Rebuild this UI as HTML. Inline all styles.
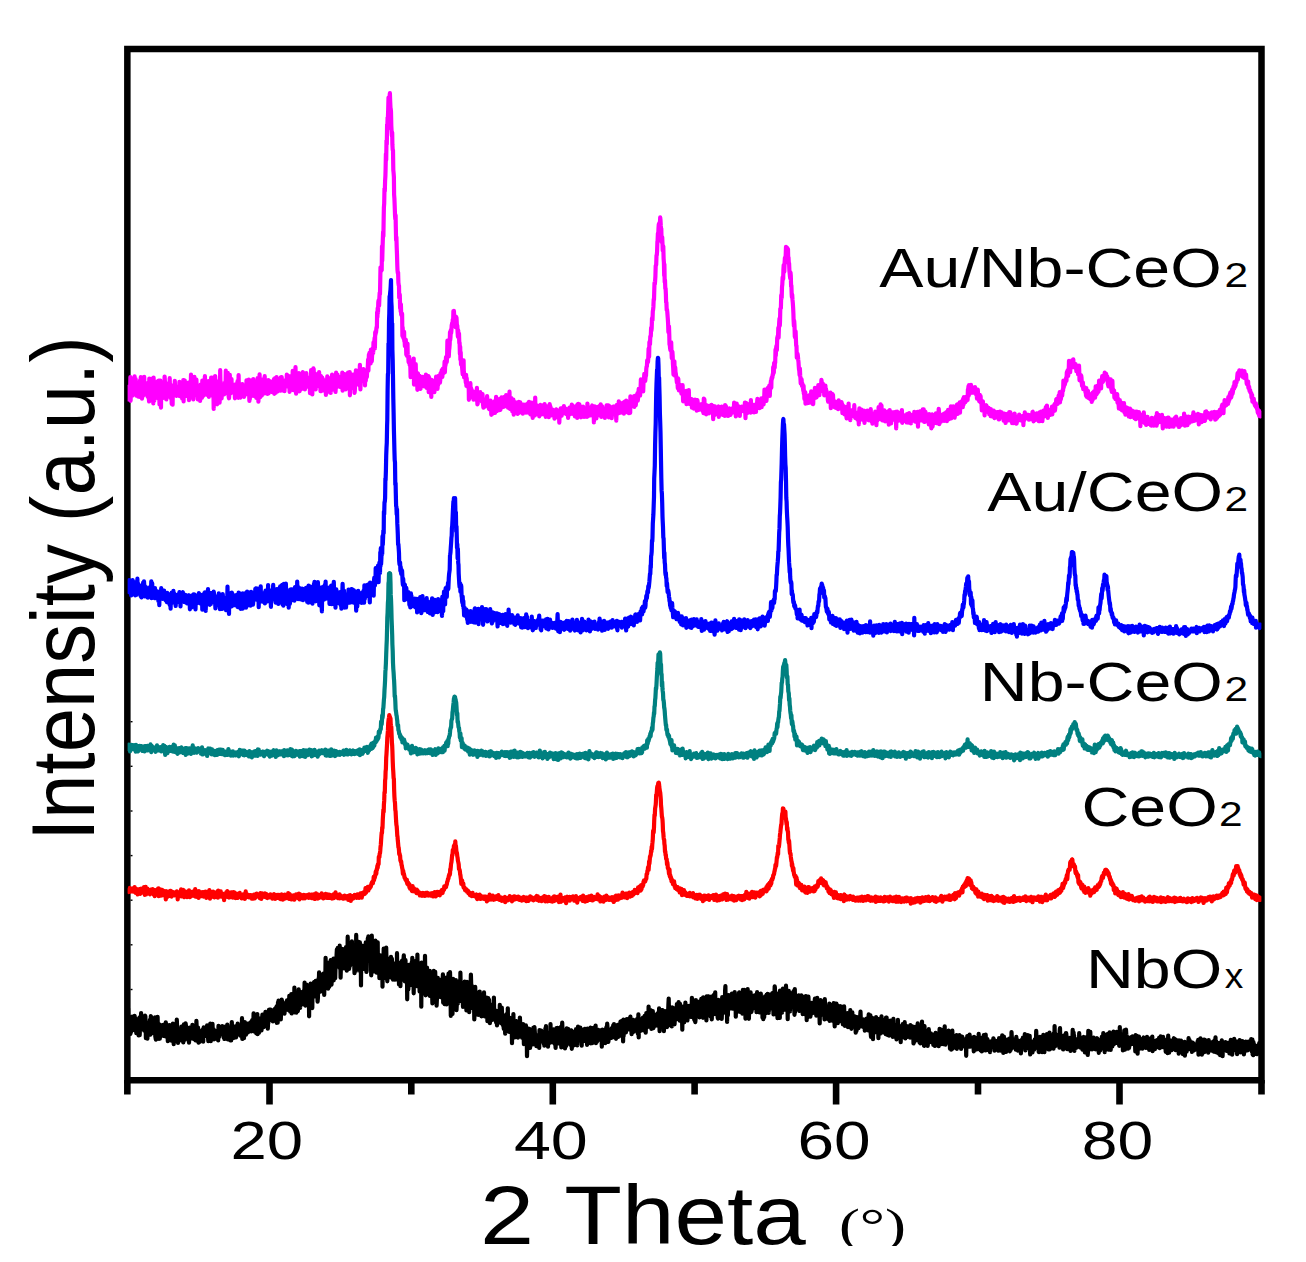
<!DOCTYPE html>
<html><head><meta charset="utf-8"><title>XRD</title>
<style>html,body{margin:0;padding:0;background:#fff;}svg{display:block;}</style></head>
<body>
<svg width="1306" height="1262" viewBox="0 0 1306 1262">
<rect x="0" y="0" width="1306" height="1262" fill="#fff"/>
<g fill="none" stroke="#000">
<path d="M127.35 48.9H1261.5V1080.35H127.35Z" stroke-width="6.5" stroke-linejoin="miter"/>
<path d="M127.35 1080V1094.5M411.3 1080V1094.5M694.6 1080V1094.5M978 1080V1094.5M1261.5 1080V1094.5" stroke-width="6.6"/>
<path d="M269.5 1080V1104.5M552.8 1080V1104.5M836.1 1080V1104.5M1119.5 1080V1104.5" stroke-width="6.6"/>
</g>
<g fill="#000">
<rect x="130.5" y="721" width="2" height="1.4"/><rect x="130.5" y="765.6" width="2" height="1.4"/><rect x="130.5" y="810.3" width="2" height="1.4"/><rect x="130.5" y="854.9" width="2" height="1.4"/><rect x="130.5" y="899.5" width="2" height="1.4"/><rect x="130.5" y="944.1" width="2" height="1.4"/><rect x="130.5" y="988.8" width="2" height="1.4"/>
</g>
<clipPath id="cc"><rect x="127.6" y="40" width="1133.8" height="1040"/></clipPath>
<g clip-path="url(#cc)"><g fill="none" stroke-linejoin="round" stroke-linecap="butt" transform="scale(0.1)">
<path d="M1278 3902l3 92 3-9 3-120 2 14 3-16 3 77 3-44 3 55 3-180 2 237 3-116 3 54 3-57 3-17 3 59 2 25 3-72 3 3 3 58 3-108 3-45 2 133 3-75 3-87 3 77 3 24 3-51 2-21 3 106 3 59 3-78 3-36 3 78 2 23 3-71 3 59 3 34 3-87 3-43 2 81 3-7 3 59 3-166 3 43 3-12 2-63 3 129 3 28 3-88 3 147 3-39 2-14 3-15 3 38 3-158 3 134 3-1 2-163 3 146 3-41 3 71 3-84 3 29 2 25 3-84 3 102 3-49 3 41 3-69 2 110 3-32 3-54 3 56 3 43 3 36 2-230 3 168 3-28 3-38 3-62 3 155 2-172 3 125 3 50 3-197 3 89 3-68 2 105 3 87 3 35 3-258 3 82 3 87 2 59 3-78 3-78 3 70 3-20 3-13 2-35 3 76 3-5 3-27 3-9 3-71 2 54 3 114 3-93 3-84 3 187 3-54 2 106 3-137 3-35 3-65 3 185 3 84 2-227 3 12 3 84 3-95 3 37 3-5 2 37 3 60 3-71 3 60 3-89 3 50 2-164 3 46 3 149 3-92 3 78 3-2 2 51 3-33 3 13 3-74 3-39 3-2 2 16 3-42 3 38 3 30 3 23 3-39 2-104 3 122 3 19 3 57 3-34 3-80 2-5 3 179 3-82 3 70 3 19 3-193 2 79 3 5 3 6 3-1 3-23 3-2 2-109 3 87 3-38 3 57 3-39 3 70 2 13 3-33 3 0 3-15 3-35 3 18 2-21 3 57 3-25 3 37 3-124 3 143 2-107 3 2 3 34 3-24 3 55 3-56 2-32 3 14 3 139 3-82 3-78 3 75 2-101 3 215 3-213 3 128 3 4 3-128 2 112 3 44 3-34 3-14 3 44 3-51 2 11 3-29 3 48 3-101 3 110 3-83 2-37 3 92 3 84 3-47 3-94 3 77 2-73 3 20 3 13 3-152 3 158 3-77 2 21 3-50 3-3 3 36 3 112 3 52 2-107 3 70 3-85 3-104 3 129 3 19 2-56 3 46 3 17 3-90 3-39 3 78 2 1 3-9 3 83 3 46 3-134 3 69 2 15 3-14 3 20 3-89 3 70 3 79 2-76 3-89 3 76 3 41 3-56 3-58 2 130 3-173 3 108 3-33 3-73 3 149 2-54 3-94 3 109 3-64 3-91 3 75 2 58 3 22 3-29 3-8 3 26 3-42 2 85 3-64 3 9 3 15 3-98 3 21 2 136 3-73 3-38 3 38 3-51 3 46 2-57 3 57 3-113 3 176 3-112 3-65 2 82 3-9 3 31 3-79 3 94 3 194 2-296 3 97 3-39 3 30 3-121 3 40 2 97 3-30 3 100 3-141 3 53 3 164 2-221 3-8 3 52 3-1 3 54 3-43 2-53 3 58 3 145 3-82 3-242 3 158 2-44 3 89 3-47 3 125 3-59 3-3 2-41 3-13 3 22 3 57 3-45 3-52 2 96 3-64 3-15 3-42 3 13 3-3 2-127 3 225 3-27 3-45 3 74 3-35 2-4 3-167 3 132 3 46 3 63 3 14 2-24 3-151 3-60 3 162 3-32 3 55 2-63 3 21 3-100 3 114 3-52 3 47 2 6 3-33 3 26 3-19 3 45 3-14 2-61 3-2 3 135 3-106 3 63 3-34 2-55 3-10 3 50 3 8 3 21 3-108 2 39 3 29 3 98 3-228 3 161 3-56 2 56 3-53 3 49 3 69 3-69 3 5 2-4 3-64 3 74 3-43 3-34 3 44 2-11 3 56 3-45 3-27 3 112 3-26 2 16 3-38 3-40 3-18 3 8 3 70 2-48 3-90 3 82 3-78 3 89 3-77 2-3 3 78 3-11 3-89 3 135 3 79 2-204 3 185 3-141 3 11 3 18 3-71 2 154 3-46 3-69 3 26 3-69 3 65 2 72 3-149 3 72 3 32 3 50 3 17 2-101 3-16 3 67 3-46 3 3 3 77 2 34 3-80 3-25 3 42 3-137 3 104 2-58 3 191 3-93 3-32 3-19 3-129 2 179 3 50 3-131 3 78 3 2 3-126 2 137 3 23 3-63 3-16 3 47 3-130 2 90 3 53 3-127 3 123 3-79 3-92 2 109 3-48 3 71 3-83 3 122 3-99 2 60 3-53 3 14 3 83 3-54 3-34 2-48 3 133 3-24 3-59 3 30 3-70 2 0 3 10 3 64 3-3 3-58 3 81 2 2 3-34 3 47 3-74 3 9 3 32 2-29 3 45 3-113 3 147 3-122 3 33 2-67 3 108 3 37 3-12 3-14 3-131 2 42 3 17 3-27 3 112 3-52 3-12 2 28 3-79 3 1 3 1 3 75 3-9 2 13 3 26 3-133 3 43 3 38 3-83 2 44 3 84 3 5 3-3 3-57 3-14 2 70 3-80 3 38 3 53 3-93 3-14 2 32 3 32 3-7 3-18 3 21 3-118 2 40 3 54 3-60 3-23 3 7 3 15 2 39 3-46 3 67 3 79 3-101 3 77 2-55 3-77 3 47 3-40 3 94 3-105 2 134 3-41 3-142 3 151 3 41 3-127 2 96 3-152 3 111 3-104 3 115 3-123 2-46 3 163 3 102 3-157 3 77 3-39 2-24 3 50 3 55 3-155 3 96 3-12 2-96 3 164 3 18 3-157 3 145 3-91 2-12 3 90 3-69 3 5 3 64 3-12 2-21 3-124 3-9 3 145 3-110 3 58 2-66 3 48 3-59 3 157 3-142 3 48 2-3 3 74 3-140 3 74 3-9 3 40 2-3 3-50 3 38 3-32 3 45 3-30 2-30 3 34 3 21 3 102 3-147 3 43 2 62 3-189 3 19 3 30 3 57 3 137 2-109 3 44 3-76 3-119 3 8 3 178 2-44 3-79 3 129 3-141 3 143 3 17 2-118 3-18 3 104 3-103 3 105 3-110 2 107 3-37 3-28 3-25 3 61 3-113 2 86 3-6 3 57 3-102 3 157 3-107 2-44 3 134 3 15 3-98 3-37 3 48 2-38 3 20 3 99 3-61 3-13 3 10 2-21 3 48 3 2 3-66 3 25 3 122 2-106 3-32 3 118 3-107 3-59 3 94 2-83 3 21 3 43 3-24 3-33 3 11 2-2 3 92 3-99 3 8 3 137 3-137 2 108 3-9 3-78 3-66 3 98 3 12 2 15 3-47 3 59 3 10 3-128 3 130 2-66 3-39 3 13 3 116 3-47 3-146 2 98 3-11 3-2 3-18 3-49 3 121 2-94 3 30 3-12 3-7 3 77 3-19 2-55 3-14 3 25 3 75 3-44 3 6 2-29 3 3 3 25 3-107 3 180 3-125 2 12 3 100 3-59 3-9 3-32 3-51 2 91 3 53 3-109 3 118 3-130 3 21 2 64 3-26 3 36 3-74 3-15 3-44 2 35 3 6 3-18 3 90 3-50 3-69 2 232 3-173 3-22 3 130 3-4 3-121 2-17 3 24 3 110 3-75 3-26 3 40 2 63 3-135 3 52 3-52 3 182 3-19 2-45 3-57 3 40 3-144 3 122 3-84 2-1 3 31 3 16 3 47 3 4 3-24 2-63 3 81 3-43 3 65 3-109 3-97 2 114 3 132 3-89 3-37 3 51 3-22 2-6 3-53 3 26 3 3 3-47 3-29 2 60 3 38 3-20 3-13 3-4 3 101 2-123 3 34 3 41 3-102 3 5 3 33 2 27 3-76 3-4 3-21 3-73 3 111 2-77 3-83 3 72 3-89 3 28 3 43 2-57 3 91 3-139 3 77 3 4 3 35 2-39 3-48 3-20 3-21 3 47 3-106 2 45 3-47 3 0 3-43 3 105 3-162 2 27 3-19 3-4 3-31 3-24 3 4 2-153 3 51 3-92 3 46 3-103 3-21 2 13 3 40 3-79 3-52 3 17 3-164 2-104 3 41 3-40 3 30 3-4 3-237 2 146 3-107 3-99 3-87 3 46 3-192 2-98 3-37 3-153 3 29 3-104 3-49 2-71 3-150 3 62 3-198 3 41 3-201 2 52 3-120 3 2 3-80 3-120 3 34 2 49 3 22 3-119 3-30 3 87 3 61 2 8 3 29 3 139 3 58 3 44 3-32 2 121 3 53 3 2 3 198 3 29 3 42 2 176 3 37 3 76 3 88 3 43 3-37 2 111 3 136 3-31 3 101 3 76 3 108 2 46 3 30 3-7 3 102 3 25 3 8 2 117 3-4 3-25 3 136 3-41 3 75 2-74 3 104 3-17 3 27 3-20 3 223 2-88 3 41 3 64 3-38 3 51 3-71 2 93 3-12 3 61 3 1 3-59 3-7 2 54 3 97 3-2 3 12 3-102 3-20 2 109 3 25 3-3 3 55 3-15 3-38 2 24 3 56 3 5 3 1 3 117 3-110 2 25 3-45 3 36 3 48 3 8 3-27 2 31 3-10 3-84 3-58 3 261 3-63 2-36 3-72 3 26 3 124 3-185 3 117 2 58 3-29 3 31 3-37 3 118 3-152 2-12 3 77 3 55 3-64 3 53 3-69 2-27 3 119 3 10 3 1 3-86 3-30 2 1 3 44 3 38 3-2 3-85 3 73 2-7 3 4 3-4 3-8 3 36 3-20 2 5 3-41 3 48 3-22 3-88 3 115 2-33 3 52 3-47 3 3 3 13 3-9 2-19 3-59 3 160 3-149 3 55 3 44 2-11 3 9 3 9 3 21 3-42 3 113 2-171 3 54 3-27 3-8 3 36 3 50 2-95 3-1 3 61 3-9 3 61 3-42 2-36 3-26 3 22 3-18 3-54 3 58 2-10 3-5 3-11 3 89 3-45 3 7 2-70 3-21 3 29 3 19 3-29 3 2 2 46 3-34 3-60 3 19 3-15 3 30 2-64 3 37 3 31 3-36 3-48 3 5 2 24 3 7 3 6 3-52 3-61 3 108 2-59 3-7 3-17 3-70 3 17 3 12 2 19 3-57 3-154 3 109 3 9 3 24 2-43 3 59 3-64 3-22 3-37 3-121 2 79 3-30 3-69 3 31 3-25 3-56 2-2 3-21 3 8 3-41 3 32 3-117 2 66 3-67 3 51 3 44 3-20 3-1 2 15 3 74 3-106 3 100 3-90 3 61 2 45 3-25 3 65 3 43 3-62 3 69 2 9 3-45 3 96 3-4 3 112 3-73 2 129 3-74 3 123 3-39 3 15 3 32 2 21 3 38 3 30 3-71 3-22 3-45 2 108 3 61 3-3 3 1 3-7 3 0 2 25 3 38 3-78 3 111 3-79 3 61 2-11 3 19 3-20 3 3 3 45 3-28 2 148 3-108 3-4 3 10 3-15 3-49 2 92 3 27 3-68 3 64 3-45 3 49 2 18 3 7 3 0 3-43 3 63 3-51 2 32 3 15 3-39 3-38 3 74 3-67 2 9 3-9 3 76 3-39 3-81 3 115 2 52 3-10 3-92 3 26 3 17 3 15 2-32 3-43 3 73 3-4 3-73 3 39 2 26 3-8 3 22 3 13 3-7 3-22 2-45 3 78 3 33 3 25 3-73 3 3 2 60 3 2 3-38 3 17 3-53 3 55 2-51 3 29 3 4 3-10 3-60 3 52 2 47 3-13 3-10 3 33 3 12 3 8 2-61 3 33 3-12 3-20 3-23 3 54 2-29 3 116 3-86 3-4 3-6 3 86 2-106 3 29 3-22 3 24 3 4 3 43 2-96 3 53 3 63 3-81 3 12 3-27 2-66 3 95 3 48 3-62 3-53 3 79 2-7 3 34 3-4 3-46 3 25 3-85 2 110 3-36 3 33 3-2 3-53 3 4 2-29 3-46 3 72 3 9 3-49 3 67 2-25 3 12 3-48 3-40 3 96 3-8 2-29 3-13 3 4 3 4 3-15 3-58 2 106 3-87 3 44 3 1 3 22 3-70 2 108 3-20 3 5 3 20 3-77 3-87 2 133 3 39 3-4 3-63 3 19 3 16 2-77 3 45 3 3 3 86 3-83 3 86 2-58 3-62 3 149 3-120 3 62 3 42 2-83 3-25 3 87 3-36 3-48 3 7 2 27 3 52 3-46 3 36 3 38 3-13 2 7 3-7 3-107 3 108 3-33 3-17 2-36 3-18 3 19 3 41 3-43 3 14 2 8 3 49 3-36 3 6 3 55 3-61 2 35 3-63 3 53 3-8 3 2 3-24 2-21 3 28 3-6 3 56 3-4 3-80 2 69 3-41 3 35 3-35 3-38 3 94 2-21 3-63 3-25 3 51 3-24 3 30 2 37 3 32 3-68 3 65 3-8 3-60 2-46 3 94 3-9 3 66 3-35 3-24 2 34 3-103 3 47 3-18 3 76 3-44 2-136 3 166 3-85 3 63 3-47 3 28 2 15 3-17 3-43 3 89 3-38 3-15 2 27 3-46 3 91 3-62 3 6 3-1 2-47 3-9 3 52 3 6 3 37 3-33 2-57 3 61 3 11 3 8 3-25 3-58 2 90 3-71 3 50 3-80 3 88 3-57 2 70 3 26 3-21 3-87 3 9 3 3 2 58 3-11 3-6 3 6 3 11 3 3 2 39 3-64 3 10 3-76 3 20 3 24 2-17 3 53 3 31 3-54 3-2 3 0 2 25 3-25 3 37 3-4 3 2 3 16 2-27 3 5 3 61 3-67 3 32 3-28 2-18 3 0 3-13 3 32 3-23 3 7 2 62 3-50 3 48 3-33 3 23 3-55 2 28 3 94 3-68 3 7 3-29 3 23 2-75 3 12 3 47 3 15 3-46 3 8 2-6 3 6 3-38 3-9 3 50 3-62 2 28 3 12 3-15 3 48 3-26 3 13 2-35 3 10 3 46 3-6 3-31 3 30 2-7 3-1 3 53 3-75 3 30 3 0 2-25 3-35 3 68 3-16 3-9 3-1 2-1 3-34 3 44 3-79 3 66 3-56 2 43 3 39 3-37 3-9 3 37 3-30 2-5 3 0 3 70 3-32 3-7 3-62 2 67 3-72 3 66 3-60 3 114 3-136 2 108 3-16 3-96 3 57 3 63 3-12 2-104 3 42 3-24 3 5 3 15 3 92 2-63 3-14 3-4 3 38 3 1 3-60 2 89 3-95 3 30 3 27 3 47 3-76 2 24 3 38 3-25 3 19 3-3 3-29 2 14 3 11 3-35 3 61 3-133 3 40 2 88 3-38 3-39 3 38 3 27 3-61 2 50 3-33 3 1 3 2 3 44 3-83 2 28 3 39 3-70 3-13 3 80 3-20 2-6 3 11 3-41 3 145 3-145 3 21 2-36 3 37 3 73 3-56 3 21 3-40 2 86 3-61 3-53 3 76 3-43 3 37 2-18 3 5 3-5 3-38 3-23 3 92 2-41 3 16 3-28 3-58 3 27 3 99 2-81 3 15 3-40 3 34 3 6 3 5 2 6 3-21 3 1 3 21 3 12 3-17 2 69 3-57 3-2 3-31 3 62 3-76 2-22 3 23 3 58 3-65 3 89 3-49 2-55 3 47 3 73 3-97 3-17 3 66 2 29 3-11 3-50 3 18 3 5 3 30 2 35 3-83 3 51 3-61 3 34 3-56 2 5 3 43 3-49 3 65 3-53 3 22 2-7 3-9 3 16 3 34 3 73 3-157 2 53 3-18 3-27 3 43 3-43 3 28 2 47 3-119 3 82 3 6 3-51 3 53 2-7 3-26 3 56 3-92 3 70 3-32 2-30 3 32 3-7 3 42 3-84 3 47 2-10 3 74 3-98 3 78 3-102 3 75 2-17 3 18 3-40 3-46 3 14 3 102 2-41 3-40 3 62 3-60 3-2 3-19 2 85 3 26 3-108 3 43 3 22 3 39 2-165 3 89 3 16 3-79 3 65 3-10 2 16 3-49 3 33 3-40 3 41 3-20 2-22 3-41 3 107 3-23 3-12 3-59 2 8 3 69 3-38 3-62 3 29 3-1 2-17 3-32 3 75 3-29 3-34 3-55 2 30 3 15 3 26 3-51 3 47 3-41 2-39 3-81 3 51 3-19 3 41 3 10 2 30 3-60 3-51 3 119 3-84 3-31 2-11 3-51 3 62 3-22 3 32 3-30 2-22 3 0 3-71 3-21 3-1 3-61 2 24 3-25 3 18 3-44 3-91 3 51 2 29 3-145 3 16 3 4 3-77 3 2 2-6 3-82 3 30 3-28 3-98 3 15 2 4 3-87 3-15 3-32 3-76 3 5 2-67 3-100 3 15 3-32 3-49 3-105 2-2 3-9 3-92 3-4 3-38 3-95 2-9 3-75 3 26 3-76 3-42 3 3 2-15 3 10 3 1 3-67 3 29 3 56 2 22 3 6 3 133 3-33 3-16 3 70 2 64 3 2 3-43 3 119 3 44 3 129 2-113 3 180 3-22 3 87 3-4 3 61 2 79 3 0 3 77 3-6 3 25 3 42 2 24 3 47 3 88 3-65 3 11 3 89 2 89 3 2 3 35 3 20 3-50 3 52 2-80 3 94 3 63 3-60 3-1 3 44 2 70 3 48 3 65 3-27 3-92 3-15 2 99 3 44 3-83 3 49 3 13 3 27 2 2 3 33 3 28 3-26 3 31 3 51 2-97 3 7 3 60 3 53 3-51 3 38 2-42 3 47 3-47 3 49 3-4 3 5 2 38 3-5 3-52 3 55 3-83 3 96 2 65 3-71 3 4 3-10 3 30 3-39 2 42 3-27 3-1 3 23 3-3 3-52 2 132 3-61 3-58 3 96 3-33 3 11 2 20 3-50 3-65 3 97 3 15 3 27 2-55 3 18 3 25 3-22 3 5 3 18 2-39 3 87 3-81 3 34 3-10 3-11 2 43 3 17 3 16 3-27 3-32 3 44 2-74 3 50 3 17 3 3 3-55 3-10 2 105 3-70 3-36 3 15 3 42 3 39 2-37 3 40 3-30 3 9 3 18 3-43 2 23 3-21 3-7 3 43 3-47 3 30 2-27 3 24 3-14 3 54 3-32 3 1 2 52 3-146 3 58 3-51 3 89 3 15 2 7 3-11 3-36 3 86 3-46 3-17 2-27 3 50 3-28 3 2 3 22 3 1 2-33 3 68 3-72 3-3 3 47 3-5 2-1 3-15 3 15 3-18 3-34 3 76 2-55 3 26 3 31 3-22 3 87 3-131 2 22 3 27 3 41 3-51 3-37 3 82 2-64 3 23 3 35 3-49 3 7 3 30 2-21 3 16 3-39 3 26 3-30 3-14 2 104 3-41 3 15 3-59 3 30 3-6 2-38 3 62 3-40 3 16 3-41 3 79 2-8 3-11 3-41 3 11 3 55 3-47 2 17 3-5 3-39 3 82 3-110 3 68 2-10 3-48 3 61 3 5 3-15 3-28 2 39 3 20 3-28 3 46 3-27 3-4 2 19 3-64 3 4 3 31 3 0 3 30 2-12 3-31 3 1 3-16 3-3 3-4 2 42 3-43 3 3 3 15 3-21 3 8 2-61 3 78 3-21 3 15 3 5 3-69 2 130 3-69 3 0 3-60 3 73 3-6 2-24 3 18 3 32 3-50 3-17 3 68 2-33 3-14 3 76 3-66 3-10 3 13 2-20 3 18 3-2 3-25 3 12 3 18 2 2 3 6 3 6 3-17 3 8 3-27 2 4 3 39 3-92 3 71 3 85 3-153 2 102 3-99 3 64 3 38 3-4 3-73 2-12 3-4 3 65 3-34 3 12 3 8 2 4 3 4 3-13 3-52 3 92 3-127 2 121 3-56 3 12 3-10 3 4 3 11 2-8 3-25 3 59 3-44 3 59 3-46 2-18 3 35 3 13 3-57 3 18 3 51 2-77 3 3 3 29 3-44 3-41 3 22 2 61 3 7 3-4 3-9 3-53 3 57 2 12 3-60 3 48 3-43 3 14 3 3 2-61 3 89 3-76 3 20 3-16 3 26 2-5 3-16 3 39 3-40 3-26 3-83 2 78 3-5 3-24 3-5 3 41 3 9 2 21 3-30 3-66 3 25 3-59 3 60 2-20 3-38 3 8 3-13 3-21 3 54 2 49 3-84 3-2 3-40 3-27 3 72 2-96 3 13 3-29 3 10 3-35 3 7 2-77 3 24 3 33 3-97 3-5 3 51 2-52 3 3 3-133 3 61 3-71 3-26 2 39 3 2 3-118 3-13 3-8 3-11 2-72 3 99 3-90 3-64 3-38 3 71 2-36 3-133 3-3 3-1 3-125 3-13 2 37 3-111 3-25 3-69 3-11 3 23 2-89 3-49 3-2 3 67 3-86 3-51 2 8 3-5 3-26 3-87 3 76 3-24 2 41 3-84 3 101 3-52 3-35 3 136 2-54 3 56 3 3 3 75 3 28 3 31 2 15 3-57 3 32 3 107 3-9 3 90 2 25 3-24 3 51 3 32 3 45 3 61 2 67 3 58 3-52 3 48 3 109 3 7 2 6 3-65 3 77 3 70 3-1 3 118 2-43 3 31 3-26 3 24 3 35 3 22 2 34 3 40 3 13 3 45 3-66 3 71 2 17 3 61 3-48 3 33 3-27 3 56 2 11 3-24 3 17 3 25 3 31 3-50 2 79 3-33 3 84 3-7 3-56 3-1 2 112 3-57 3 4 3-29 3 15 3 36 2-3 3-45 3 73 3-28 3-41 3 68 2-37 3 33 3-44 3 32 3-67 3 68 2-65 3 57 3-93 3 83 3 25 3-10 2 22 3-79 3 87 3-2 3-98 3 10 2 4 3 15 3 3 3-95 3 100 3-34 2-30 3 62 3-49 3 45 3-25 3-34 2 46 3-17 3-50 3-42 3 32 3 36 2-33 3 66 3-55 3-5 3 5 3-45 2 25 3-20 3-58 3 20 3 87 3-39 2 12 3-44 3 33 3 49 3-20 3-18 2 74 3-51 3-6 3 55 3-94 3 82 2-52 3 16 3 7 3 33 3 3 3 11 2 1 3 45 3 14 3-30 3 6 3-35 2-21 3 61 3-15 3 31 3-87 3 155 2-130 3 47 3 35 3-77 3 30 3-46 2 22 3-14 3 71 3 8 3-18 3 56 2 6 3-45 3-5 3 0 3-5 3 61 2-35 3-17 3 5 3 27 3-30 3 26 2-10 3 48 3-5 3-84 3 44 3 31 2-37 3 44 3-14 3 10 3-20 3 15 2 9 3-65 3 21 3-1 3 92 3-44 2 5 3-5 3-21 3-6 3 56 3-39 2 67 3-44 3-2 3-8 3 7 3 5 2 52 3 29 3-115 3 49 3 17 3-53 2 11 3 7 3-64 3 104 3-22 3 0 2 7 3 6 3 71 3-71 3 23 3-45 2 31 3-22 3 7 3-25 3 4 3 44 2 11 3-9 3-37 3 34 3-95 3 118 2-32 3 11 3 31 3-53 3 48 3-46 2 34 3-32 3 25 3 40 3-70 3 2 2 10 3 22 3 84 3-112 3-48 3 47 2-30 3 35 3 20 3-32 3 10 3-39 2 70 3-31 3 63 3-1 3-64 3 17 2 15 3 25 3-82 3 55 3 66 3-66 2 11 3-7 3-40 3 74 3-23 3-3 2 19 3 3 3-91 3 81 3-36 3 26 2-30 3-5 3 62 3-32 3-9 3 0 2 12 3-3 3-80 3 51 3 22 3 33 2 21 3-79 3 98 3-63 3 14 3-35 2-3 3 69 3-56 3 3 3 43 3 19 2-111 3 45 3 6 3 62 3 22 3-87 2 14 3 16 3 10 3-51 3 40 3-54 2-69 3 44 3 55 3 19 3-106 3 15 2 61 3-116 3 135 3 16 3-139 3 129 2-34 3 55 3-39 3-19 3 12 3 28 2-26 3-6 3-52 3 66 3-16 3 62 2-64 3-3 3-19 3 46 3-32 3-18 2 80 3 6 3-78 3-20 3 74 3-68 2 127 3-103 3 38 3-79 3 44 3 39 2-22 3-34 3 104 3-59 3-34 3-13 2 13 3 57 3-74 3 29 3-29 3 73 2-49 3 37 3-10 3-39 3 46 3 9 2-72 3 65 3 101 3-134 3 34 3-69 2 64 3-36 3 49 3-28 3-39 3 81 2-46 3-27 3 38 3-36 3 49 3-16 2-11 3 37 3-68 3 79 3-104 3 127 2-50 3-16 3-16 3 45 3-25 3 0 2 42 3-51 3 7 3 24 3 22 3-43 2 11 3-4 3 25 3 26 3-85 3 28 2 4 3 22 3 32 3-53 3 8 3 32 2-83 3 17 3 11 3 15 3 9 3-26 2 78 3-85 3 18 3 44 3-10 3-28 2 14 3 15 3-28 3 22 3-53 3 34 2-59 3 26 3-9 3 82 3-59 3 27 2-42 3 25 3-3 3-20 3 59 3-86 2 78 3 70 3-119 3 29 3-54 3 52 2-58 3 81 3-38 3-46 3 19 3-10 2 44 3 39 3-42 3-27 3 12 3 33 2-87 3 103 3-6 3-97 3 124 3-95 2 48 3 48 3-95 3-7 3 25 3 1 2 33 3-13 3 1 3 1 3 11 3-23 2 41 3-11 3-34 3 96 3-104 3 68 2-49 3 38 3 5 3 12 3 19 3-75 2 124 3-82 3-40 3-18 3 124 3-23 2-55 3 26 3 19 3-41 3-17 3 13 2 30 3-28 3-41 3 66 3-83 3 33 2 66 3-33 3-1 3-4 3 31 3-37 2-63 3 73 3-110 3 33 3 120 3-18 2-51 3 13 3 4 3 30 3-59 3-5 2 7 3 25 3 2 3-23 3 37 3-60 2 29 3-21 3-12 3 71 3-52 3-25 2 33 3-36 3 50 3 6 3 4 3-70 2 28 3 63 3-69 3 46 3 7 3-97 2 83 3-17 3 3 3 24 3-41 3-14 2 16 3-33 3 26 3-82 3 120 3-75 2 33 3-9 3-8 3-1 3-3 3-56 2 33 3 55 3-73 3-3 3 101 3-31 2 10 3-52 3 7 3 14 3-8 3-23 2-46 3 22 3-27 3 97 3-66 3 5 2 13 3-11 3 14 3-40 3-31 3 102 2-82 3 4 3-14 3 5 3 14 3 20 2-62 3 39 3-35 3 56 3-82 3 38 2 16 3-71 3 42 3-4 3-35 3 14 2 34 3-29 3-26 3 1 3 16 3 21 2-20 3-7 3 21 3-105 3-1 3-32 2 95 3-105 3 67 3 21 3-73 3 20 2 9 3 28 3-75 3 56 3 10 3-20 2-1 3 33 3-34 3-8 3-10 3 32 2-29 3 31 3-15 3 34 3-58 3 31 2 12 3 6 3 26 3-18 3 20 3 39 2-30 3-54 3-6 3 71 3-26 3 27 2-9 3 53 3 2 3-65 3 49 3-11 2-25 3 67 3-18 3 24 3 68 3-29 2-2 3-40 3-18 3 79 3-41 3 15 2-7 3 19 3 74 3-77 3 5 3 19 2 6 3-40 3-14 3 39 3 15 3-14 2-4 3 5 3 18 3 11 3-43 3 34 2 29 3-13 3-34 3 31 3 11 3 24 2-69 3 69 3-33 3 21 3 14 3-44 2 3 3 20 3 25 3-36 3-25 3 21 2 31 3 23 3-48 3 6 3 4 3 1 2-23 3 15 3 19 3-3 3-3 3-29 2 13 3-4 3 50 3 12 3-31 3 35 2-53 3 1 3-28 3 44 3-19 3 16 2 11 3-19 3-24 3 30 3 0 3 4 2 18 3-24 3-1 3 56 3-17 3-32 2-23 3 14 3 24 3 13 3 44 3-73 2 12 3-13 3 12 3-12 3-18 3 58 2-24 3 32 3-48 3 21 3 11 3-68 2 16 3 57 3-17 3-52 3 30 3-8 2 16 3 55 3-57 3 71 3-61 3-12 2 62 3-16 3 12 3 15 3-23 3 5 2-78 3 24 3 34 3-6 3 14 3-31 2 43 3 24 3-38 3 7 3-8 3 11 2-19 3-19 3 19 3-2 3-43 3 47 2-6 3 5 3-20 3 27 3 4 3-35 2 27 3 12 3-1 3-44 3-2 3 27 2-28 3 93 3-87 3 0 3 38 3-30 2-49 3 57 3-22 3 12 3-29 3 19 2 19 3 2 3-28 3 11 3-4 3 25 2-8 3-28 3 48 3-35 3 28 3-34 2 31 3-11 3 4 3 11 3-2 3-7 2-1 3-37 3 31 3-55 3-2 3 49 2 2 3 44 3-22 3 11 3-37 3 19 2 18 3-17 3-5 3-7 3-26 3 0 2-14 3 46 3-18 3-11 3 25 3-24 2 40 3 21 3-37 3-30 3-21 3 88 2-41 3-42 3 56 3-70 3 30 3 4 2-4 3-21 3 87 3-71 3 18 3-10 2-43 3 25 3 18 3 16 3-33 3 16 2-19 3 21 3-78 3 75 3-32 3-1 2-58 3 43 3 40 3 41 3-77 3 0 2 27 3-7 3-23 3 9 3-7 3 23 2 2 3 22 3-23 3-9 3-15 3 17 2-51 3 76 3-50 3 26 3-59 3 43 2-19 3-18 3-16 3-9 3 65 3-19 2-32 3-2 3-28 3-32 3-4 3 26 2 8 3-32 3 47 3-13 3-14 3-56 2 35 3-1 3-38 3-30 3 102 3-41 2-33 3 46 3-20 3-25 3-13 3 7 2 11 3-45 3-17 3 14 3-101 3 70 2-22 3 2 3-14 3 5 3-16 3-11 2-15 3 7 3-37 3 32 3-85 3 43 2-3 3-58 3 14 3 40 3-50 3-31 2-69 3 87 3-15 3 7 3 34 3-66 2-2 3-30 3 13 3-3 3 19 3-9 2-41 3 7 3 54 3-69 3 51 3 27 2-27 3-8 3 36 3-26 3-6 3 0 2 46 3-7 3 32 3-48 3 9 3 4 2 29 3-19 3 56 3-9 3-29 3-48 2 42 3 104 3-34 3 15 3-8 3 33 2-58 3 6 3 19 3 57 3 27 3 1 2-10 3-25 3 66 3-24 3 15 3 4 2-5 3-1 3 9 3-14 3 49 3-8 2 39 3-76 3 88 3-31 3 1 3-15 2 3 3-17 3 70 3-29 3 28 3 5 2-36 3 8 3-2 3 39 3-25 3 2 2 15 3-23 3 59 3-85 3 61 3 3 2-74 3 55 3-19 3 15 3-62 3 38 2-38 3 15 3 47 3-48 3-65 3 20 2 3 3 57 3-54 3-30 3 71 3-30 2-3 3-39 3 59 3-52 3-60 3 18 2 3 3 13 3 21 3-49 3-3 3 77 2-68 3-24 3 12 3-43 3 48 3 9 2-50 3 43 3-41 3 14 3-33 3-3 2-22 3 51 3-15 3 1 3-25 3 0 2 18 3 35 3-2 3-25 3 33 3 48 2-45 3 62 3-42 3 32 3-49 3 57 2-64 3 49 3-10 3-43 3 26 3 80 2-12 3 31 3-25 3-84 3 99 3-17 2 8 3 9 3-3 3 1 3 70 3-17 2-26 3 13 3 46 3-11 3 0 3-35 2 28 3-15 3-18 3 86 3-30 3 2 2-11 3 54 3 43 3-39 3 14 3-58 2 44 3 5 3 40 3-40 3-24 3 29 2-8 3 57 3-19 3-6 3-2 3 22 2-35 3-9 3-25 3 91 3-17 3 7 2-15 3 49 3-73 3 65 3-56 3 14 2-19 3 39 3-8 3 23 3-27 3-21 2 58 3 23 3-14 3-21 3 15 3-58 2 40 3 45 3-19 3-36 3 51 3-27 2 26 3-60 3 27 3 26 3 0 3 9 2-15 3-4 3 21 3 12 3-67 3 36 2 4 3 12 3 25 3-66 3 55 3-64 2 29 3 8 3 8 3-9 3 4 3 6 2 3 3-44 3 13 3 29 3 28 3 15 2 54 3-78 3-25 3 29 3 15 3-15 2-34 3 29 3 2 3-39 3 7 3 70 2-98 3 70 3-12 3 48 3-22 3-42 2 62 3-52 3 74 3-9 3-50 3 26 2-17 3-31 3 57 3-17 3 12 3 7 2 10 3-10 3-32 3 5 3 10 3-15 2-3 3 61 3-39 3 41 3-77 3 22 2-11 3 1 3 3 3 6 3-9 3 65 2-32 3-41 3 6 3 38 3-6 3-33 2 45 3-69 3 29 3 64 3-126 3 70 2 35 3-32 3-19 3-3 3-34 3 22 2 41 3-18 3 16 3-3 3 13 3-57 2 40 3-1 3 1 3-16 3-38 3 83 2 6 3 46 3-48 3 27 3-30 3-29 2 26 3-48 3 42 3-10 3-28 3 68 2-3 3-19 3 11 3 25 3-53 3-35 2 12 3 49 3-13 3-51 3 84 3-33 2 42 3-14 3-46 3 16 3-24 3-3 2 16 3 24 3 26 3-67 3 48 3-20 2-7 3 41 3-45 3 52 3-51 3-17 2 51 3-67 3 8 3 30 3 6 3-8 2-51 3 19 3 56 3 1 3-47 3 38 2-2 3 25 3-53 3 66 3-54 3 53 2-16 3-59 3 21 3 18 3 22 3-73 2 26 3 33 3-4 3-47 3 4 3 39 2-44 3 37 3 20 3-28 3-81 3 114 2-2 3 7 3-17 3-76 3 90 3-32 2 16 3-33 3-3 3-1 3 52 3-39 2-15 3-32 3 49 3-14 3 3 3 23 2-9 3-21 3 5 3-5 3 17 3-2 2-17 3-29 3 47 3 0 3-56 3 40 2-23 3-51 3 59 3 26 3-47 3-1 2 47 3-60 3 4 3 16 3 25 3 0 2-33 3 5 3 10 3-14 3-13 3-7 2 48 3-26 3 83 3-61 3-38 3 20 2 9 3 1 3 1 3-1 3-16 3 21 2 41 3-70 3 2 3 29 3 14 3-11 2 10 3-33 3-4 3 23 3 1 3 26 2-3 3-87 3 68 3-37 3-37 3 65 2-14 3-5 3-23 3 7 3 21 3-33 2 36 3 6 3-7 3 12 3-9 3-28 2 3 3 30 3 21 3-21 3-16 3 16 2-50 3 20 3 15 3 8 3-7 3 0 2-23 3 14 3 19 3-52 3 14 3 20 2 44 3-21 3 20 3-7 3-45 3 7 2-28 3 55 3-13 3-6 3 0 3-8 2-8 3-1 3 19 3-51 3-9 3 22 2 25 3-25 3-14 3 21 3-20 3-51 2 17 3-29 3 41 3-9 3 17 3 36 2-68 3 11 3-13 3-61 3 44 3-3 2 18 3-30 3-16 3 39 3-20 3-25 2-2 3 5 3 21 3 8 3-69 3 52 2-33 3 1 3 8 3-51 3 36 3-58 2 13 3-16 3 53 3-9 3-28 3-13 2-31 3 45 3-15 3-20 3-31 3-13 2-2 3 26 3-62 3 18 3 28 3-26 2 13 3-39 3-6 3 15 3-24 3-14 2-27 3-29 3 64 3-50 3-13 3 33 2-46 3-15 3 15 3 8 3 6 3 3 2 9 3-27 3 11 3-11 3-12 3 25 2 0 3 37 3-26 3-27 3 33 3-15 2 46 3-69 3 29 3 6 3 24 3 1 2-25 3 1 3 53 3 36 3 8 3-32 2 27 3-20 3-4 3 66 3-3 3-12 2 8 3 36 3-4 3-4 3 23 3 3 2 1 3 3 3 43 3-20 3-6 3 69 2-4 3-7 3-4 3 13 3-26 3 36 2 12 3-2 3 19 3-17 3 25 3-28 2 37 3-5 3-8 3 24 3 14 3-6 2 34 3-25 3 36 3 1 3-20 3 43 2-48 3 41 3-4 3 17 3-39 3 11 2 11" stroke="#ff00ff" stroke-width="42.0" />
<path d="M1278 5809l3 8 3-5 3 27 2 82 3-121 3 101 3 14 3-63 3-13 2 47 3 30 3 37 3-50 3 29 3-81 2-17 3-33 3 23 3 32 3 23 3-60 2 86 3-36 3-21 3-5 3 112 3-73 2-42 3-2 3 112 3-96 3 71 3 10 2-148 3 147 3-62 3-34 3 23 3 44 2-6 3 2 3-45 3 81 3 10 3 14 2-33 3 37 3 9 3-55 3 8 3-11 2 0 3 13 3-102 3 57 3 33 3-103 2 28 3 122 3-105 3 25 3 34 3-33 2-15 3 15 3 4 3-6 3 32 3 58 2-49 3 52 3-35 3 4 3-9 3-35 2 30 3-4 3-56 3 76 3-6 3-7 2-37 3-84 3 168 3-62 3-85 3 117 2-54 3 57 3-31 3 51 3-35 3 2 2-4 3 45 3-102 3 102 3-19 3-50 2 24 3-17 3 21 3 38 3-66 3 60 2 9 3-12 3 40 3-67 3 33 3 75 2-101 3-6 3 7 3 25 3-49 3 17 2-62 3 30 3 2 3-5 3 31 3 48 2-44 3-38 3 66 3-2 3-65 3 66 2-50 3 19 3-4 3 66 3-68 3 22 2 22 3 36 3 7 3-92 3 94 3-37 2 39 3-6 3-66 3 25 3-14 3 29 2 55 3-67 3-30 3 135 3-148 3 42 2 0 3-53 3 88 3 12 3-49 3 7 2-10 3-67 3 85 3-63 3 13 3 58 2 23 3-77 3 86 3 27 3-68 3-10 2 12 3-25 3-20 3 65 3 3 3-52 2 4 3-9 3-3 3-11 3-24 3 104 2-54 3 19 3 74 3-98 3 46 3-83 2 31 3 57 3-41 3-51 3-4 3 81 2-55 3 70 3-18 3-25 3 11 3 35 2-31 3-42 3 55 3-30 3 6 3 34 2-10 3 30 3-52 3-12 3 5 3 31 2-51 3 19 3-20 3 3 3 25 3 112 2-120 3 27 3-7 3-11 3 9 3 83 2-96 3 81 3-41 3-66 3 10 3 8 2-27 3 97 3-32 3 5 3-67 3 64 2-43 3 128 3-109 3 17 3 6 3-39 2 4 3 0 3 54 3-69 3 25 3 22 2-32 3-42 3 8 3 34 3-24 3 84 2-41 3-2 3-43 3 67 3-38 3-26 2 14 3 132 3-130 3-11 3 88 3-18 2-44 3 73 3-125 3 44 3-51 3 132 2-58 3 112 3-93 3 1 3-71 3-2 2 31 3 61 3-86 3-59 3 143 3 3 2-81 3 60 3 30 3 2 3-120 3 72 2-37 3 77 3-39 3-57 3 58 3 22 2-95 3 9 3 30 3 17 3-12 3-56 2 12 3 68 3 20 3-58 3 48 3 77 2-93 3-10 3-12 3 54 3-11 3 2 2-28 3 36 3 0 3-25 3 59 3-122 2 103 3-37 3 44 3 48 3-83 3-11 2 8 3 64 3 8 3-63 3 23 3 52 2-57 3-93 3 32 3 15 3 41 3-44 2 90 3-86 3 94 3-102 3 93 3-53 2 57 3 25 3-10 3-32 3-83 3-3 2-109 3 215 3-9 3-12 3-100 3 181 2-159 3 72 3-116 3 46 3 86 3-9 2-99 3 47 3 56 3-139 3 122 3-109 2 102 3-43 3 58 3-71 3 8 3-1 2-29 3 31 3-36 3 21 3 58 3-48 2 66 3-18 3 5 3-93 3 73 3 48 2-26 3 15 3 14 3-145 3 98 3-1 2-36 3-54 3 69 3-15 3 100 3-31 2-83 3-31 3 9 3 38 3-33 3 129 2-153 3 52 3 11 3 13 3-65 3 33 2 19 3 6 3-44 3 13 3 24 3 82 2-151 3 91 3 42 3-144 3 137 3-2 2-66 3 43 3 25 3-79 3 18 3-64 2 18 3 37 3-9 3 83 3-90 3-48 2 101 3 1 3-26 3-26 3-32 3 6 2 105 3-36 3-34 3 15 3-38 3-28 2 21 3 20 3-78 3 9 3-14 3 61 2 51 3-96 3 9 3-23 3 55 3-36 2 8 3-5 3 163 3-115 3-28 3 10 2 64 3 5 3-35 3-109 3 144 3 4 2-14 3-15 3-20 3 55 3-73 3 66 2-75 3 4 3-3 3-5 3 3 3 61 2 40 3-112 3-16 3 112 3-78 3 30 2-6 3 38 3-89 3 100 3-17 3-147 2 100 3-11 3 38 3-22 3-34 3 20 2 34 3-15 3-9 3 117 3-83 3-82 2 62 3 10 3-65 3 55 3-47 3-69 2 127 3 15 3-1 3-37 3-22 3 41 2 10 3 24 3 21 3-26 3-69 3 27 2-67 3 105 3-6 3 30 3-35 3 54 2-112 3 51 3-28 3 1 3-77 3 51 2-62 3 82 3-18 3 41 3-97 3 65 2 13 3-102 3 196 3-58 3-62 3 132 2-27 3-190 3 108 3-16 3 33 3-49 2 34 3 17 3-129 3 131 3 64 3-64 2 52 3 22 3-65 3 5 3 1 3-41 2 135 3-92 3 6 3 20 3 27 3-143 2 16 3 59 3 19 3-87 3-9 3 108 2-3 3-51 3 0 3-18 3-28 3 14 2 53 3-19 3 58 3-116 3-20 3 114 2-77 3 32 3 17 3-66 3-15 3 91 2-152 3 169 3-122 3 130 3-25 3-5 2 13 3-18 3-77 3 111 3-36 3 17 2-31 3-7 3 60 3 1 3-37 3-73 2 13 3-4 3 108 3-31 3-22 3-11 2-31 3 79 3-95 3 10 3 86 3-11 2-36 3-61 3 0 3 107 3-24 3 57 2-100 3 19 3-44 3 132 3-171 3 118 2 51 3-132 3-26 3 22 3-22 3 91 2-23 3-42 3 32 3 92 3-91 3-8 2 120 3-146 3 22 3 99 3-74 3-101 2 53 3-72 3 83 3 50 3-102 3 164 2-14 3-24 3-80 3 39 3 28 3 21 2 16 3-178 3 75 3-23 3 42 3 29 2 109 3-125 3 53 3-42 3-7 3 93 2-149 3 94 3 73 3 71 3-206 3-21 2-17 3 45 3 21 3 1 3 59 3-75 2 34 3-104 3 53 3 27 3-116 3 131 2 41 3-42 3 8 3-11 3-62 3 65 2-31 3 35 3 0 3 3 3-76 3 67 2 97 3-43 3-61 3-26 3 92 3-52 2-93 3 71 3 113 3-178 3 93 3-43 2 37 3-18 3-24 3-89 3 126 3 13 2-8 3-49 3 25 3 151 3-177 3 43 2-49 3 56 3 25 3 53 3-52 3-11 2 20 3 11 3-31 3 1 3 68 3-103 2 34 3-44 3 22 3 108 3-117 3 65 2 87 3-85 3-36 3-33 3-94 3 86 2 2 3 101 3-14 3-106 3 103 3-67 2 133 3-19 3-42 3-57 3 117 3-47 2 16 3-32 3-42 3 57 3-87 3 88 2-33 3-99 3 115 3-29 3-18 3 16 2 47 3-103 3 3 3 97 3-29 3-104 2 100 3-99 3 129 3-23 3 10 3-109 2 39 3 88 3-122 3 102 3-40 3 19 2-53 3 76 3-12 3 24 3 87 3-145 2 14 3-61 3 150 3-113 3 59 3-103 2 47 3 45 3-8 3-41 3 62 3-43 2 50 3-70 3 46 3-61 3 93 3-69 2 1 3-34 3 83 3-47 3-22 3 82 2-113 3 92 3 26 3-174 3 138 3-20 2-21 3 7 3-86 3 90 3-16 3-94 2 68 3-56 3 67 3-54 3 51 3-84 2 45 3 5 3 8 3 70 3 54 3-200 2 123 3-62 3-4 3-4 3 5 3 1 2 45 3 20 3-52 3-21 3 24 3-13 2 70 3-152 3-28 3 54 3 24 3-34 2 16 3-156 3 89 3-3 3-44 3 30 2 11 3 23 3-81 3-50 3 98 3 68 2-107 3-16 3-74 3 48 3 56 3-207 2 139 3-179 3 160 3-60 3-86 3 3 2 43 3-180 3 85 3-71 3-75 3 32 2-218 3 27 3-119 3-4 3-39 3-197 2 19 3-93 3-150 3-81 3-52 3-170 2-59 3-295 3-160 3-9 3-301 3 1 2-214 3-87 3-169 3-1 3-37 3-29 2-31 3-64 3 214 3 51 3 196 3-29 2 265 3 102 3 177 3 204 3 142 3 173 2 77 3 127 3 101 3 25 3 220 3-15 2 100 3 127 3 10 3 75 3-50 3 141 2 37 3 71 3 104 3-4 3 43 3 47 2 79 3 32 3-8 3-9 3 82 3-40 2 27 3 44 3-23 3-15 3 9 3 63 2 40 3 36 3-61 3 63 3 2 3-14 2 162 3-157 3 4 3 58 3 80 3-90 2 95 3-113 3 38 3 17 3 3 3 21 2-2 3 0 3-34 3 80 3-18 3 15 2 52 3-30 3-9 3 63 3-89 3-52 2 53 3-29 3 52 3 3 3 11 3 20 2 19 3-8 3-13 3-21 3-8 3 24 2-11 3-40 3 34 3 55 3-31 3-43 2 53 3 19 3-83 3 135 3-25 3-63 2 63 3-42 3 19 3-74 3 20 3 13 2 7 3-18 3-53 3 24 3 75 3-40 2 101 3-15 3-77 3 21 3-99 3 123 2 20 3-91 3 0 3 10 3 63 3 15 2-97 3 29 3 44 3-15 3-24 3 39 2-68 3-27 3 102 3 6 3 29 3-77 2-24 3 45 3-6 3 8 3-5 3 69 2-47 3 51 3-98 3-14 3 92 3-101 2 3 3 1 3-33 3 110 3 57 3-52 2 13 3-56 3-29 3 71 3-80 3-18 2 32 3 90 3-32 3-30 3-39 3 6 2 60 3-20 3-33 3 89 3-85 3-45 2 62 3 61 3-18 3 9 3-82 3 57 2-16 3-20 3-43 3 108 3-55 3-32 2 56 3 80 3-190 3 78 3 68 3-4 2-137 3 18 3-76 3 86 3-77 3 15 2 105 3-129 3-36 3 73 3-2 3-11 2 29 3-100 3 10 3 18 3-69 3 62 2-42 3-70 3-38 3-21 3-21 3-144 2-10 3-21 3-50 3-40 3-52 3-23 2-76 3-24 3-56 3-70 3-63 3-55 2 44 3-77 3 27 3 35 3-8 3-54 2 80 3 177 3-115 3 192 3-51 3 114 2 102 3-40 3 144 3-96 3 139 3 22 2 87 3 53 3 52 3 29 3-40 3 5 2 83 3-20 3-48 3 16 3 93 3 17 2 35 3 19 3-64 3 93 3-51 3 78 2-10 3 77 3-43 3-31 3 19 3 20 2 28 3 15 3-63 3-1 3 78 3-26 2 47 3-20 3 53 3-41 3-75 3 35 2 42 3-65 3 45 3 28 3 19 3-10 2-96 3 109 3-84 3 39 3-37 3 71 2-41 3 12 3 7 3-21 3-23 3 81 2-34 3 6 3-101 3-11 3 143 3-39 2-99 3 85 3-15 3-43 3 21 3 86 2-100 3 46 3-51 3-29 3 152 3-68 2-45 3 4 3 3 3-31 3 58 3 7 2-40 3 14 3-48 3 59 3-84 3 71 2 59 3-65 3 113 3-143 3 32 3 9 2 36 3 11 3-38 3-63 3 110 3-28 2 5 3-88 3 77 3-24 3 42 3 29 2-94 3 27 3 6 3-29 3 48 3 0 2-50 3 1 3 41 3-73 3 76 3 20 2 0 3-63 3 98 3 11 3-113 3 102 2-14 3-14 3-57 3 63 3-73 3 41 2 28 3-10 3-26 3 23 3-16 3 15 2-35 3-14 3 22 3-22 3 81 3 50 2-64 3 17 3-75 3 31 3-32 3 60 2-18 3-37 3 81 3-48 3 28 3 4 2 18 3-4 3-41 3-9 3-13 3-14 2 93 3-77 3 66 3-75 3 5 3 55 2-37 3-21 3 79 3-95 3 16 3 49 2 27 3-49 3-27 3 100 3-72 3-20 2 25 3 35 3-130 3 58 3 58 3-5 2-15 3-6 3 24 3 16 3-52 3 5 2 39 3-35 3-31 3 37 3-29 3 56 2 9 3-48 3 17 3 17 3 29 3-7 2-22 3 4 3 33 3-22 3-3 3-50 2 41 3 9 3-11 3-34 3-24 3 77 2 1 3-15 3-32 3 14 3 13 3 26 2-20 3-28 3 10 3-20 3 93 3-78 2 68 3-36 3 49 3-90 3 57 3-51 2 1 3 5 3-18 3 13 3 20 3 59 2-64 3-33 3 66 3 24 3-121 3 93 2-57 3-14 3 77 3 26 3 12 3-55 2-12 3 17 3 14 3 10 3 15 3-29 2 6 3-10 3-30 3 37 3 32 3-21 2-88 3 112 3-72 3 96 3-4 3-44 2 35 3-81 3 19 3-15 3 32 3-9 2 5 3-3 3 42 3-45 3-13 3 16 2 11 3-1 3-44 3 16 3 5 3-19 2-20 3 30 3-61 3 70 3-30 3 29 2 6 3 62 3 3 3 8 3-64 3-17 2 40 3-56 3 29 3-20 3 21 3 25 2-55 3 40 3-2 3 1 3 9 3-27 2 10 3-8 3-35 3 90 3-23 3-1 2-39 3-32 3 60 3-35 3 81 3-2 2-66 3 55 3-18 3-23 3-44 3 65 2 8 3 1 3-41 3 17 3 1 3 0 2-19 3 50 3-14 3-28 3 24 3 16 2-18 3 0 3 13 3-44 3 42 3-39 2 25 3 30 3-48 3 47 3-14 3 21 2-83 3-69 3 86 3 87 3-50 3-16 2 9 3 12 3-17 3 71 3-63 3-41 2 2 3 33 3 3 3 24 3 4 3 2 2-58 3 41 3-30 3 23 3-34 3 67 2 2 3-29 3-37 3 57 3-21 3-47 2 57 3 6 3-11 3-63 3 69 3 8 2-44 3 47 3-16 3 13 3-75 3 40 2 22 3-55 3 44 3 45 3-91 3 83 2-15 3-49 3 2 3-2 3 33 3-73 2 83 3-60 3 31 3-1 3 33 3-49 2 5 3 55 3 13 3-47 3-8 3 16 2-5 3-2 3-27 3-34 3 67 3-8 2 33 3-1 3 15 3-59 3 33 3-53 2 40 3 7 3-34 3 17 3 70 3-90 2 51 3-38 3 34 3-94 3 34 3 29 2 52 3-50 3-29 3 22 3 32 3-62 2 43 3-7 3-6 3 22 3-31 3 35 2 2 3 29 3-37 3-11 3-27 3 15 2-20 3 71 3-98 3 72 3 1 3 5 2-29 3 70 3-67 3-34 3 25 3-3 2 54 3-36 3-23 3 0 3 20 3-8 2 9 3 29 3-62 3 18 3 24 3-45 2 55 3 19 3-32 3 18 3-29 3 9 2 7 3-8 3 32 3-43 3 35 3-35 2 52 3-6 3-26 3-45 3 12 3-46 2 89 3-34 3-8 3 20 3-38 3 24 2 17 3 20 3 32 3-78 3 44 3-40 2-11 3 36 3-11 3-38 3 38 3 52 2-70 3-1 3 52 3-25 3-26 3 32 2-26 3-7 3 30 3-33 3 42 3 21 2-58 3-1 3-2 3 18 3-20 3 23 2 17 3-48 3 33 3 24 3-8 3-46 2 56 3-57 3 50 3-67 3 57 3-24 2-1 3-2 3-15 3 36 3-8 3 17 2-42 3 39 3 7 3-49 3 55 3 8 2-71 3 7 3 87 3-54 3-13 3-20 2 40 3-28 3 21 3-5 3 6 3 5 2-25 3 19 3 3 3-22 3-12 3 25 2 33 3-46 3-7 3 19 3-20 3 14 2-4 3-14 3 23 3-31 3 2 3-25 2 22 3 25 3 24 3 47 3-82 3-9 2 61 3-88 3 59 3-16 3 33 3-47 2 8 3-48 3 26 3 14 3-15 3-5 2 44 3-66 3-6 3 3 3 17 3-7 2 15 3-12 3 61 3-64 3 13 3 17 2 44 3-65 3-11 3 38 3-38 3-31 2-2 3 27 3-26 3 61 3-19 3 30 2-39 3-17 3 24 3-3 3-43 3 64 2-41 3 13 3-38 3 37 3 28 3-66 2-25 3 25 3-4 3 9 3-63 3 63 2-25 3-21 3-30 3 32 3 16 3-23 2-7 3-19 3-2 3-52 3 66 3-21 2-45 3-3 3-50 3 2 3 21 3-44 2-27 3 5 3 8 3-64 3 22 3-18 2-22 3-28 3-39 3-39 3 4 3-88 2 24 3-113 3-14 3-34 3-112 3 12 2-44 3-134 3-46 3-49 3-87 3-85 2-184 3-63 3-67 3-210 3-119 3-88 2-126 3-173 3-100 3-73 3-77 3 0 2-73 3-39 3 6 3 73 3 140 3-22 2 86 3 106 3 168 3 86 3 102 3 164 2 119 3 171 3 127 3 34 3 93 3 133 2 47 3 61 3 103 3 9 3 103 3 94 2-56 3 99 3 20 3 80 3 25 3-20 2 48 3 7 3 77 3-30 3 42 3 47 2-19 3 0 3 14 3 19 3 36 3 10 2 32 3-2 3 45 3-1 3 27 3-43 2-7 3 74 3-16 3-57 3 45 3 33 2 27 3 35 3-26 3-16 3-14 3-5 2 8 3-6 3 31 3 32 3-10 3-34 2 46 3 14 3-28 3 0 3 9 3 15 2-59 3 30 3-9 3 36 3 14 3-24 2 42 3-19 3 4 3-2 3-30 3 74 2-36 3-45 3 58 3 9 3-53 3 36 2 39 3-24 3-10 3 0 3 11 3-34 2 15 3 19 3-7 3 35 3-77 3 97 2-62 3-4 3 15 3 29 3-31 3 40 2-4 3-25 3-5 3 1 3 11 3-40 2 70 3-32 3 5 3-21 3 1 3 53 2-83 3 53 3-24 3-22 3 58 3-38 2 38 3-25 3-44 3 50 3-26 3 23 2-2 3 18 3-8 3-9 3-8 3-20 2-16 3 57 3-35 3 18 3 29 3 5 2 1 3-17 3 7 3 0 3-3 3-35 2 36 3 16 3-24 3 5 3-62 3 35 2 83 3-82 3 39 3 17 3-6 3-19 2-5 3-30 3 73 3-39 3 27 3-66 2-9 3 0 3 68 3-27 3 1 3 14 2-4 3 2 3-21 3-7 3 28 3 22 2-38 3 17 3-11 3 21 3-40 3 75 2-2 3-40 3-6 3-37 3 64 3-18 2 1 3-43 3 56 3 28 3-71 3 21 2 36 3-12 3 0 3 59 3-40 3-30 2-72 3 63 3-28 3 2 3 62 3-57 2 22 3 38 3-51 3 4 3-16 3 17 2-27 3 44 3-22 3 27 3 4 3-17 2 5 3-13 3 22 3 10 3-12 3 23 2-29 3-6 3 13 3-51 3 26 3-38 2 56 3 16 3-55 3 14 3 2 3 43 2-20 3 22 3-16 3 0 3-63 3-5 2 82 3 25 3-88 3 3 3 55 3 22 2-79 3 10 3 40 3-16 3-1 3 12 2-50 3 5 3 59 3-79 3 60 3-34 2 45 3-36 3-3 3 32 3-29 3 0 2-59 3 72 3-19 3 30 3-37 3-18 2 61 3-34 3-6 3-28 3 69 3-12 2-48 3 43 3-6 3 17 3-30 3 53 2-103 3 9 3 57 3 5 3-11 3 48 2-49 3-49 3 79 3-36 3-11 3 25 2-1 3-24 3 31 3-10 3-14 3 1 2-49 3 29 3 2 3 10 3 46 3-37 2-10 3-24 3 21 3-12 3-2 3 25 2-42 3 23 3 42 3-21 3-25 3 9 2-5 3 49 3-2 3 10 3-50 3 6 2 23 3-48 3 14 3 38 3-38 3-7 2 33 3-19 3-9 3 19 3-46 3 60 2-13 3 4 3-4 3 11 3-61 3 44 2 34 3-55 3-5 3 3 3-19 3 98 2-72 3 24 3-45 3 5 3-7 3-15 2 23 3 40 3-47 3 42 3 23 3-38 2 18 3 2 3-47 3 1 3-33 3 31 2 40 3-24 3-13 3-9 3-11 3 8 2 67 3-28 3-26 3-15 3-14 3 40 2-40 3 0 3-2 3 39 3-33 3 33 2-64 3-5 3-15 3 28 3-38 3 10 2 43 3-27 3-28 3-5 3-87 3 18 2 64 3-54 3-3 3 33 3-67 3 26 2-23 3 0 3-20 3 33 3-43 3 6 2-79 3-4 3-10 3 13 3-46 3-57 2-62 3 2 3-69 3-37 3-31 3-41 2-57 3-3 3-96 3-92 3-39 3-124 2-22 3-78 3-89 3-150 3-30 3-101 2-63 3-132 3-101 3-79 3-71 3-46 2-8 3 66 3-15 3 54 3 48 3 107 2 103 3 90 3 37 3 129 3 171 3 37 2 74 3 68 3 49 3 62 3 111 3 72 2 31 3 73 3 67 3 43 3 57 3-35 2 81 3 41 3 17 3-11 3 16 3 109 2-39 3 42 3-6 3 12 3 47 3 27 2-12 3 7 3 41 3-17 3 10 3 1 2 28 3-1 3 6 3 4 3 20 3 30 2-26 3-12 3 80 3-24 3-32 3-26 2 76 3-45 3 22 3-60 3 85 3 13 2-29 3 1 3 7 3-26 3 4 3 56 2-31 3 9 3 0 3 24 3-19 3 17 2 5 3-29 3 12 3 15 3 13 3-11 2 4 3-33 3 14 3 23 3-14 3 7 2 6 3 37 3-57 3 45 3-3 3-9 2-22 3 19 3-12 3 33 3-20 3 3 2-24 3 49 3-78 3 102 3-84 3 6 2 1 3-28 3 55 3-46 3-8 3 42 2-17 3-61 3 2 3 27 3-3 3 5 2-26 3 26 3-13 3-26 3-20 3 15 2-6 3-41 3-23 3 4 3-48 3 4 2-8 3-65 3-11 3-48 3 16 3 10 2-40 3 12 3-21 3-27 3 52 3-38 2 34 3-6 3-1 3 59 3-38 3 11 2 66 3-6 3-10 3 27 3-6 3 62 2 29 3-1 3 18 3 27 3-17 3-11 2 11 3 34 3 5 3 8 3-26 3 33 2 41 3-28 3 32 3-16 3-10 3 38 2 16 3-20 3 17 3-36 3-13 3-14 2 45 3 36 3-46 3-18 3 36 3 0 2 0 3-22 3 61 3-50 3 10 3-31 2 50 3 29 3-15 3-52 3 46 3-43 2 21 3-3 3 28 3-5 3-19 3 5 2 38 3-67 3 22 3 63 3-45 3-24 2 36 3 11 3-43 3 20 3-9 3 32 2-10 3-19 3 35 3-31 3 60 3-18 2-36 3 13 3 22 3-14 3-36 3 12 2 1 3 5 3-35 3 58 3 63 3-75 2 1 3-8 3 18 3-27 3 7 3 20 2-64 3 39 3 53 3-19 3-15 3 3 2-63 3 75 3-23 3 38 3-19 3 7 2-50 3-1 3 84 3-51 3-4 3 43 2-17 3 2 3 26 3-33 3-12 3-4 2-39 3 47 3 0 3-11 3 72 3-78 2 13 3-4 3 4 3 27 3-25 3 24 2 46 3-66 3-6 3 4 3 43 3-20 2 0 3-16 3-4 3 58 3-5 3-59 2-1 3 10 3 0 3 34 3 13 3-35 2-19 3 44 3 13 3-70 3 43 3-29 2 0 3 1 3 55 3-25 3-24 3 15 2 11 3-43 3 49 3-39 3 6 3 56 2-114 3 102 3 1 3-32 3 33 3-22 2-18 3 23 3-21 3 4 3-13 3 86 2-38 3-31 3-31 3 13 3 2 3-8 2 22 3 1 3 42 3-6 3-68 3 67 2-58 3 48 3-21 3-3 3 6 3-24 2-13 3 73 3-80 3 53 3-40 3 32 2-12 3 5 3-24 3 28 3 35 3-26 2 13 3-45 3 5 3 27 3-58 3 63 2-26 3-5 3 41 3-56 3 54 3-63 2-2 3 52 3 4 3-62 3 37 3 44 2-47 3-31 3 22 3 8 3-5 3-22 2 12 3 23 3 7 3-18 3 13 3-6 2-42 3 74 3-4 3-32 3-5 3 6 2 2 3 15 3 4 3-30 3-17 3-2 2 64 3-43 3-24 3-27 3 69 3-17 2 2 3-29 3 13 3-3 3 18 3 44 2-59 3-15 3 51 3-2 3-32 3 14 2-21 3 64 3-33 3-48 3 59 3 3 2-59 3 35 3 0 3-38 3-5 3 113 2-95 3 40 3 4 3 8 3-3 3-19 2-22 3-10 3 41 3-33 3 46 3-29 2 35 3-69 3 81 3-50 3 20 3-44 2 49 3-11 3 22 3-11 3 34 3-88 2 27 3-21 3 30 3 25 3 0 3-38 2-21 3 36 3 15 3-50 3 37 3-20 2 29 3-27 3 43 3-39 3 16 3 75 2-177 3 93 3 3 3 14 3 2 3-7 2-20 3 11 3 18 3-50 3 61 3-27 2 33 3-39 3 21 3-17 3 28 3 6 2-41 3 30 3-20 3 19 3-27 3 1 2 21 3 12 3-18 3 6 3-21 3 34 2-24 3-22 3 61 3-67 3 60 3-25 2 8 3 42 3-67 3-10 3-8 3 31 2 28 3-32 3 4 3 5 3-11 3 11 2-35 3-21 3 32 3 4 3 41 3-19 2-33 3 56 3-10 3-35 3 63 3-43 2-21 3 11 3 24 3-11 3-35 3 66 2-41 3-15 3 13 3 10 3 34 3-5 2-76 3 34 3 9 3 5 3 16 3-6 2-42 3 66 3-23 3-60 3 67 3-18 2-39 3 35 3 11 3-10 3-22 3 13 2-3 3-4 3 23 3-35 3 28 3 6 2 11 3-11 3-20 3-2 3-5 3 52 2-49 3-10 3 10 3 28 3 3 3-58 2 61 3-27 3 43 3-7 3-51 3-7 2-2 3 13 3 17 3 0 3 1 3 5 2-23 3 5 3 10 3 17 3-34 3-11 2 32 3-12 3 4 3-15 3 12 3-22 2-10 3 22 3-41 3 47 3 32 3-74 2 5 3 28 3-31 3 27 3-17 3-9 2 27 3-34 3-2 3-22 3 42 3-19 2-13 3 28 3-25 3 26 3-10 3-34 2-9 3 44 3-41 3-18 3 6 3-43 2 37 3-44 3 37 3-37 3 10 3 25 2-21 3-48 3 4 3-50 3 22 3 8 2-25 3-13 3-34 3-57 3 10 3-48 2 33 3-49 3-25 3-31 3 19 3-6 2-13 3-59 3 52 3-25 3-42 3 85 2-1 3-34 3 82 3 8 3 51 3-12 2 10 3-26 3 116 3-72 3 45 3 45 2-8 3-48 3 76 3 10 3 50 3-17 2 50 3-2 3 12 3 0 3 47 3-22 2 6 3-18 3-2 3-18 3-9 3 23 2 53 3-33 3 17 3-2 3 15 3 15 2 29 3-64 3 82 3-51 3-10 3 9 2 43 3-13 3 17 3-40 3 45 3-34 2 16 3-27 3 10 3-6 3 37 3-2 2-94 3 79 3 0 3-32 3 3 3 54 2-34 3 28 3-2 3-77 3 91 3-64 2 18 3 10 3 13 3 0 3-17 3 2 2 14 3 11 3-30 3 21 3-2 3-26 2 7 3 4 3 57 3-47 3 12 3 0 2-34 3 25 3-47 3 5 3 41 3-20 2 16 3 7 3 33 3-50 3 4 3-53 2 82 3-32 3-13 3 35 3-21 3-17 2-3 3 35 3 7 3-22 3-3 3 52 2-58 3-14 3 39 3-30 3-17 3 39 2-16 3 51 3-31 3 15 3 7 3-15 2 10 3-49 3 4 3 19 3 27 3-11 2 4 3 7 3-25 3-13 3-1 3 51 2-70 3 6 3 40 3-31 3 36 3-31 2 17 3-18 3 32 3-2 3 27 3-20 2-1 3-31 3 12 3-6 3-26 3 8 2 28 3 12 3 32 3-55 3-16 3 50 2-25 3-8 3 7 3-41 3 51 3 7 2-4 3-12 3 9 3 30 3-44 3 67 2-46 3 8 3 59 3-57 3-15 3 16 2-34 3 59 3-27 3-2 3-16 3 24 2 12 3-79 3 28 3 45 3-24 3 9 2-24 3 3 3 52 3-17 3 4 3-82 2 74 3 4 3 2 3-25 3 38 3 4 2-26 3-57 3 56 3 7 3 11 3-25 2 24 3-18 3 4 3-3 3 17 3 15 2-7 3-43 3 40 3-24 3 14 3-68 2 78 3-25 3 0 3 10 3-29 3 6 2-39 3 66 3-21 3 16 3 5 3-21 2 25 3-63 3 39 3 16 3-27 3 18 2-15 3 29 3 3 3-39 3 4 3 14 2-12 3 11 3-9 3 7 3-29 3 29 2 15 3-49 3 34 3-4 3 7 3-59 2 41 3-7 3 22 3 2 3-79 3 44 2 22 3 1 3-1 3-30 3 8 3 18 2 9 3-13 3-27 3-47 3 53 3 5 2 2 3 13 3 2 3 33 3-45 3 8 2 26 3-16 3-35 3 29 3-44 3 43 2 1 3-30 3 33 3-12 3-23 3 28 2-33 3 14 3-31 3 53 3-35 3-11 2 10 3 28 3 15 3-40 3-16 3 16 2-4 3 10 3-15 3 8 3-51 3 13 2 20 3-24 3 4 3 39 3-24 3-2 2-2 3-12 3-4 3 6 3 13 3-12 2 0 3 23 3-25 3 10 3-13 3 8 2-45 3-10 3 36 3-16 3 5 3-53 2 77 3-60 3 40 3-61 3-8 3-48 2 49 3-18 3-21 3 10 3-38 3 20 2-22 3-18 3-37 3-19 3 26 3-49 2-20 3-26 3-30 3-54 3 14 3-48 2-39 3 18 3 0 3-96 3-14 3-72 2 32 3-47 3 0 3-12 3-42 3 21 2-19 3 20 3 7 3-21 3 34 3 6 2 26 3 86 3 54 3 16 3 5 3 103 2-17 3 46 3-10 3 42 3-11 3 37 2-2 3 53 3 3 3 8 3 53 3-6 2 13 3 23 3-10 3 28 3 6 3 3 2 16 3 27 3-4 3-2 3-6 3 34 2 20 3-22 3-18 3 77 3-40 3 41 2-68 3 4 3 15 3 9 3-43 3 22 2 41 3-15 3 26 3-14 3-10 3 18 2 4 3-21 3 33 3-2 3-1 3-10 2 4 3 8 3 2 3-7 3 32 3-20 2 19 3-5 3-52 3 67 3-77 3 40 2-22 3 5 3 22 3-2 3-11 3-26 2 16 3-14 3-4 3-19 3 2 3 24 2-39 3-14 3 30 3-9 3-22 3 30 2-33 3-7 3-73 3 51 3 9 3-61 2 28 3-37 3-17 3-18 3-39 3-35 2-15 3 45 3-38 3-65 3 30 3-27 2-40 3 1 3-20 3-24 3 3 3-57 2 15 3 30 3 10 3-40 3 45 3-37 2-10 3 68 3 32 3-17 3 57 3-37 2 31 3 33 3 32 3 27 3 23 3 31 2-15 3 23 3 61 3-24 3 33 3 1 2 7 3 24 3-18 3 30 3 18 3-1 2-4 3 3 3 13 3 32 3-7 3-16 2 45 3-33 3 31 3-16 3-24 3 30 2-5 3 11 3 4 3-5 3 17 3-3 2-17 3 31 3 4 3-15 3 9 3-5 2-3 3 12 3 16 3-2 3-32 3 24 2 19 3 9 3-28 3 16 3-6 3-22 2 28 3-18 3-9 3 52 3-6 3-16 2-26 3 34 3-16 3 13 3-10 3 8 2-29 3 26 3 4 3 18 3-55 3 69 2 3 3-38 3-10 3 32 3-52 3 26 2 22 3 14 3-15 3-13 3-2 3 4 2 15 3-57 3 35 3 6 3-12 3 7 2 23 3-26 3-2 3 30 3-25 3-8 2-17 3 21 3-24 3 20 3 17 3-20 2 8 3 12 3 9 3 13 3-6 3-12 2-4 3-8 3-12 3-36 3 53 3-20 2 35 3-46 3-7 3 22 3 29 3-24 2-3 3 26 3-21 3 10 3-13 3 5 2 62 3-91 3 57 3-63 3 2 3 52 2-20 3 3 3 15 3-24 3-21 3 33 2-16 3 41 3-23 3 6 3-35 3 27 2 2 3 7 3-31 3 30 3 10 3-24 2-3 3 17 3 8 3-21 3 21 3 15 2-23 3-9 3 16 3 11 3-2 3-19 2 9 3-23 3 12 3-9 3-3 3 10 2-8 3 9 3 0 3-20 3 10 3 20 2-17 3 37 3 9 3-24 3-9 3 1 2-30 3 17 3-26 3 41 3 8 3-12 2-6 3-8 3 18 3-27 3 38 3-39 2-5 3 21 3 10 3-16 3 9 3 8 2-17 3 27 3-17 3 12 3-20 3-18 2 38 3 6 3-27 3 11 3-20 3-3 2 48 3 3 3-34 3 40 3-39 3 18 2-8 3 2 3-43 3 66 3-39 3 12 2 20 3-37 3 19 3 0 3-1 3-16 2 26 3-27 3 19 3 28 3-25 3-23 2 25 3-24 3 8 3 17 3-16 3 10 2-47 3 49 3 18 3-48 3 29 3 22 2-12 3-5 3 3 3 3 3 10 3 13 2-23 3-11 3 25 3-6 3-6 3-2 2-12 3-16 3 38 3-32 3-5 3 6 2 18 3 9 3-6 3 19 3-69 3 67 2-28 3 19 3-57 3 38 3 48 3-54 2 33 3-24 3 7 3-29 3 19 3 33 2-11 3-28 3 11 3-6 3 15 3 3 2-10 3-10 3 9 3-3 3-3 3-2 2-23 3 13 3-3 3 20 3-10 3 8 2-6 3-22 3 20 3-5 3 14 3-19 2 20 3-29 3 24 3-8 3-9 3-16 2-7 3 62 3-53 3 34 3-25 3 14 2 3 3-15 3 14 3-25 3 30 3 5 2-29 3 12 3 2 3-3 3 0 3-10 2 8 3-14 3 0 3 20 3-20 3 1 2-2 3 22 3-32 3 39 3 12 3-33 2 7 3 19 3-34 3-2 3 19 3-10 2 35 3-55 3-10 3 29 3-7 3-18 2 34 3-11 3 32 3-61 3 4 3 19 2-6 3 29 3-20 3 13 3-32 3 20 2 2 3-2 3-4 3-5 3 42 3-38 2 0 3-12 3 6 3 7 3-25 3 40 2-24 3 19 3-39 3 31 3-35 3 28 2 7 3 16 3-56 3 35 3 8 3-39 2-7 3 6 3 16 3-18 3-8 3 31 2-9 3-12 3 8 3-32 3 16 3 10 2 0 3-22 3 21 3-39 3 19 3-8 2 32 3 13 3-33 3-37 3 0 3 35 2 12 3-37 3 8 3-29 3-6 3 34 2 5 3-24 3-8 3-6 3-13 3-6 2 21 3-21 3-9 3-8 3-27 3-1 2 4 3-24 3-25 3 25 3-18 3-30 2-3 3 2 3-26 3-6 3-23 3-11 2-23 3-17 3-13 3-19 3-11 3-22 2-59 3-57 3 10 3 0 3-46 3-38 2-43 3 0 3-1 3-10 3-36 3-27 2 46 3-64 3 78 3-28 3-1 3 4 2 37 3-2 3 49 3 4 3 46 3-3 2 18 3 23 3 76 3 0 3 21 3 54 2-24 3 48 3 15 3 18 3 25 3 13 2 35 3-25 3 1 3 42 3-7 3 40 2-9 3 31 3 23 3-19 3 5 3 4 2 16 3-7 3 28 3 11 3-25 3 55 2-34 3 14 3 5 3-11 3 42 3-54 2 27 3-10 3 26 3 18 3-1 3-28 2 18 3 1 3 3 3-13 3 28 3-37 2 67 3-28 3-5 3-2 3 30 3-21 2 22 3-28 3 12 3-3 3 12 3 10 2-28 3 34 3-24 3 14 3-24 3 17 2 0" stroke="#0000ff" stroke-width="42.0" />
<path d="M1278 7485l3-19 3 23 3-11 2-32 3 51 3-22 3 14 3 25 3-31 2-27 3 8 3 33 3-48 3 34 3 2 2-30 3 26 3 8 3-27 3 6 3 21 2-37 3 8 3 37 3-17 3-30 3 28 2 38 3-68 3 46 3-1 3-18 3 15 2-25 3 44 3 4 3-52 3 13 3 7 2-15 3 20 3-28 3 32 3-17 3 5 2 11 3 9 3-38 3 35 3 2 3-20 2 33 3-45 3 4 3 19 3-21 3 41 2-24 3 30 3-54 3 2 3 45 3-47 2 42 3-37 3 21 3 18 3-24 3-21 2 13 3 32 3-18 3 10 3-12 3 4 2-9 3-16 3 31 3-7 3-43 3 39 2 19 3 19 3-64 3 29 3 9 3 4 2-29 3 24 3-18 3 8 3-10 3 17 2-14 3 14 3-8 3 20 3 15 3-34 2-13 3 10 3-5 3-22 3 33 3-10 2 27 3-20 3 21 3-3 3-25 3 4 2-4 3 2 3 24 3-25 3 2 3-8 2 43 3-34 3 4 3-13 3 21 3-19 2 2 3-26 3 8 3 35 3 11 3-46 2 35 3 0 3 55 3-77 3 6 3-7 2 36 3 5 3-25 3 34 3 12 3-49 2 19 3-14 3-8 3 3 3 5 3-20 2 23 3 17 3-33 3 8 3-7 3 25 2-9 3 20 3-24 3-21 3 38 3-16 2 28 3-8 3-64 3 13 3 38 3-14 2-29 3 33 3 35 3-12 3-29 3 22 2 14 3-22 3 37 3-47 3 54 3-11 2-19 3-6 3-3 3-18 3 36 3 6 2-9 3-9 3-4 3-19 3 5 3-14 2 36 3-26 3 33 3-28 3 39 3 3 2 0 3-7 3-27 3 0 3-8 3 20 2 25 3-51 3 66 3-56 3-11 3 28 2 14 3-27 3-12 3 52 3-53 3 39 2-15 3-10 3 8 3-21 3 0 3 26 2-25 3 6 3 41 3 7 3-13 3-4 2-21 3 7 3-16 3-38 3 56 3 1 2 14 3-40 3 43 3-31 3-13 3 19 2 22 3-17 3 8 3-24 3 25 3 10 2-35 3 25 3-33 3 29 3-31 3 35 2-8 3-20 3 28 3-25 3 20 3-18 2 26 3-20 3 37 3-18 3 2 3-34 2-14 3 24 3 48 3-50 3 40 3 1 2-34 3 7 3 28 3-28 3-3 3-3 2 12 3-3 3 25 3-18 3 17 3-23 2 47 3-47 3-1 3-11 3-16 3 15 2 20 3-22 3 33 3-44 3-1 3 36 2 2 3-28 3 41 3 5 3-18 3-30 2 46 3-27 3 2 3 12 3-21 3 40 2-38 3 31 3-6 3 19 3-23 3 7 2-23 3 3 3-6 3 25 3-25 3 39 2-29 3-19 3 9 3 33 3-29 3 20 2-39 3 36 3 7 3-5 3 5 3-31 2-12 3 6 3 39 3-7 3 7 3-24 2 25 3-42 3 35 3-26 3 11 3 20 2 4 3-18 3-3 3 30 3-5 3-30 2 17 3-8 3 21 3-9 3 0 3-6 2-11 3 29 3-12 3-48 3 35 3 11 2-17 3-4 3 6 3 17 3-23 3 24 2 17 3-7 3 1 3-21 3 25 3-20 2 15 3-35 3 42 3-32 3 11 3 18 2-19 3-8 3 6 3 22 3 0 3-8 2-22 3 4 3 18 3 2 3-25 3 0 2 24 3 7 3-17 3-22 3 48 3-27 2 8 3-46 3 25 3 9 3 9 3-21 2-11 3-2 3 21 3 12 3-1 3-34 2 17 3 11 3 19 3-8 3-5 3-34 2 48 3-20 3 5 3-15 3 8 3-3 2-1 3-8 3 27 3 4 3-25 3-5 2 0 3 9 3 29 3-27 3 34 3-53 2 3 3 5 3-1 3 20 3 24 3-42 2 18 3 17 3 18 3-38 3 14 3 5 2-21 3 8 3-15 3-10 3 5 3 30 2 3 3-19 3-25 3 42 3-21 3 25 2-23 3-22 3 15 3-7 3 38 3-65 2 28 3 5 3-29 3 41 3 3 3 4 2 0 3-16 3 18 3-24 3 8 3 3 2-2 3 7 3-20 3 9 3-8 3 11 2 4 3-18 3 37 3 8 3-23 3-8 2-12 3 8 3-1 3 15 3-12 3 12 2-2 3-18 3-14 3 3 3 1 3 18 2 20 3-35 3 26 3-14 3 24 3 16 2-19 3-12 3 3 3 13 3-27 3-8 2 16 3 24 3-38 3 30 3-4 3-18 2-10 3-14 3 8 3 22 3 9 3-22 2 1 3-4 3 53 3-63 3-1 3 41 2-35 3 34 3-30 3 31 3 6 3-31 2 8 3-16 3 30 3-19 3-11 3 23 2-1 3-7 3-6 3 23 3-27 3-3 2 10 3 13 3-15 3-4 3-7 3 4 2 2 3 44 3-62 3 22 3 8 3-15 2-5 3 28 3 14 3-5 3-17 3-8 2 18 3-37 3 13 3 38 3-17 3-5 2-5 3-3 3-8 3 23 3-1 3 1 2-49 3 61 3-7 3 12 3-35 3-26 2 14 3 7 3 47 3-45 3 5 3 24 2-2 3 2 3-24 3 38 3-23 3-21 2 21 3-30 3 3 3 9 3-8 3 11 2-2 3 3 3-7 3 32 3-34 3 8 2-6 3 5 3-11 3 55 3-39 3 18 2-19 3-15 3 13 3-3 3-9 3 22 2 24 3-23 3 14 3 4 3-52 3 62 2-52 3 51 3-26 3 6 3 26 3-19 2-42 3-3 3 10 3 35 3-11 3 9 2-7 3 12 3-36 3-12 3 18 3 24 2-29 3-21 3 28 3 20 3-4 3-12 2-3 3-25 3 32 3 31 3-38 3 33 2-45 3 13 3-1 3 7 3-28 3 47 2-24 3-29 3 44 3-8 3-22 3 18 2 15 3-2 3-5 3-16 3 15 3 16 2 14 3-24 3 3 3 3 3-19 3-24 2 19 3 5 3 7 3-4 3-13 3 3 2 4 3-11 3 1 3-15 3 21 3 7 2-12 3 5 3 6 3-19 3 7 3-4 2 21 3-24 3 17 3-31 3 58 3-18 2-21 3 12 3 30 3-27 3-24 3 22 2-6 3 15 3-5 3-26 3 28 3 12 2 7 3-16 3 23 3-6 3-10 3 12 2-62 3 57 3 3 3-23 3 14 3-23 2 8 3-1 3-13 3 13 3-24 3 25 2 27 3 3 3-29 3 27 3-20 3-26 2 10 3 8 3 1 3 10 3-21 3 5 2 22 3-14 3 4 3-7 3 11 3 1 2-23 3 29 3-27 3 15 3-10 3 14 2-6 3 5 3-7 3-4 3 5 3-4 2-12 3-11 3 31 3 11 3-34 3 22 2-17 3 12 3 10 3-8 3-9 3-26 2 26 3 2 3 19 3-29 3 9 3 4 2 15 3-36 3 30 3-14 3-9 3-11 2 6 3 26 3-20 3-7 3 8 3 26 2-6 3-2 3 2 3-3 3-18 3-11 2 34 3-20 3 4 3-10 3 15 3 12 2-27 3 8 3-1 3 8 3-10 3 0 2-9 3 9 3-12 3 21 3-13 3 26 2-35 3-5 3 28 3-5 3-30 3 58 2-41 3 18 3-23 3 16 3 5 3-24 2 12 3 7 3 17 3-16 3 5 3-13 2 1 3-2 3-12 3-25 3 1 3 29 2 1 3-7 3-11 3 1 3-13 3 35 2-43 3 48 3-32 3 43 3-32 3-14 2 6 3-11 3 29 3-25 3 2 3-19 2 21 3-34 3 11 3 27 3-53 3 34 2 11 3-18 3 18 3-6 3-15 3-35 2 14 3-1 3 18 3-21 3-7 3-20 2 13 3 2 3-47 3 32 3 2 3-16 2-4 3-13 3 16 3-30 3 20 3-21 2-46 3 17 3-1 3-1 3-24 3-17 2 3 3-1 3-75 3 4 3 22 3-45 2-44 3 25 3-21 3-69 3-12 3-48 2-30 3-28 3-70 3-44 3-59 3-88 2-16 3-60 3-89 3-81 3-65 3-124 2-98 3-51 3-95 3-39 3-158 3-22 2-76 3 69 3-73 3 50 3-45 3 91 2 116 3 48 3 81 3 122 3 75 3 88 2 88 3 63 3 121 3 58 3 39 3 54 2 24 3 66 3 95 3-8 3 53 3 75 2 20 3 15 3 28 3 11 3 31 3 19 2 41 3 8 3-10 3 52 3 4 3 17 2 15 3 3 3 0 3 28 3 7 3-15 2 10 3 14 3 11 3-3 3-15 3 47 2-24 3-3 3 10 3 18 3 0 3-28 2 15 3 3 3 16 3 17 3-9 3 44 2-14 3 11 3-8 3-28 3 29 3-27 2 9 3 21 3-1 3 11 3-12 3 22 2-2 3-5 3-15 3 4 3 26 3 29 2-49 3 11 3-15 3-22 3 47 3-6 2 9 3-19 3-2 3 36 3-36 3 25 2 5 3-14 3-7 3 13 3-30 3 23 2-1 3-15 3 18 3 18 3 22 3-51 2 24 3 0 3-10 3-4 3 17 3 4 2-32 3 44 3-24 3 4 3-10 3 27 2-37 3 13 3 9 3-15 3 10 3 11 2 10 3-19 3-5 3 15 3-6 3-16 2 28 3-17 3-9 3 28 3-6 3-20 2 22 3-20 3 2 3-7 3 28 3-15 2 11 3-28 3 13 3-19 3 15 3 4 2 3 3-20 3 38 3-40 3 41 3-19 2 17 3-31 3 17 3 7 3 23 3-26 2 20 3-21 3 16 3-21 3 2 3 12 2-33 3-5 3 26 3 29 3-10 3-21 2 7 3-6 3 2 3 15 3-39 3-2 2-11 3 15 3 27 3-17 3-20 3 9 2 2 3 21 3-9 3-3 3 12 3-12 2 7 3-30 3-4 3 6 3 35 3-50 2 17 3 3 3-25 3-7 3 47 3-37 2-7 3 7 3-8 3-28 3-10 3 19 2-15 3 5 3-25 3 53 3-41 3 16 2-49 3-4 3-18 3-2 3-8 3-30 2-26 3-12 3-11 3-3 3-65 3-11 2-4 3-10 3-62 3-14 3-38 3-28 2-17 3-35 3-11 3-12 3 33 3-28 2 42 3-20 3 25 3 5 3 46 3 51 2 32 3-21 3 92 3-12 3 28 3 31 2 5 3 4 3 34 3 10 3 53 3-17 2-25 3 70 3-2 3 0 3-21 3 91 2-50 3 6 3 3 3 18 3 1 3 11 2 7 3-3 3 21 3-29 3 34 3-6 2-2 3 14 3-5 3 2 3-8 3-4 2-7 3 5 3 11 3 24 3-15 3 7 2-16 3-6 3 26 3 35 3-51 3 38 2-37 3 0 3 6 3 1 3 26 3-9 2 0 3-9 3 22 3 15 3-22 3-9 2-10 3 12 3-14 3 40 3-31 3 29 2-35 3 32 3-3 3 3 3-7 3-19 2 56 3-61 3 38 3-19 3-13 3 28 2 10 3-6 3-34 3 9 3 19 3-2 2 8 3-17 3-23 3 8 3 23 3-20 2-5 3 30 3 11 3-29 3 7 3 1 2 16 3-18 3 0 3 4 3-17 3 37 2 4 3-22 3 2 3 1 3-2 3-12 2 21 3 1 3 5 3-30 3 18 3-22 2 46 3-49 3 20 3 26 3-49 3 28 2-27 3 39 3-19 3-3 3-6 3 22 2-5 3 8 3 2 3-20 3 13 3 15 2-11 3-2 3-4 3-8 3 7 3 0 2 37 3-40 3-11 3 20 3-8 3-6 2 21 3-14 3-10 3 21 3 21 3-10 2-15 3 1 3-5 3 11 3-14 3 9 2-8 3 6 3-33 3 29 3-8 3 4 2 10 3-24 3 6 3 15 3-1 3 12 2-8 3-29 3 30 3-8 3 4 3 13 2-13 3-5 3-20 3 17 3 19 3-4 2-26 3-3 3 15 3 13 3-18 3 31 2 12 3-49 3 47 3-1 3-59 3 6 2 22 3 2 3-13 3 13 3 12 3-25 2-20 3 29 3 16 3 10 3-6 3-57 2 24 3 16 3-11 3 21 3-1 3 6 2 9 3-30 3 35 3-47 3 5 3-1 2 4 3 23 3 15 3-47 3 34 3 7 2-14 3-35 3 38 3 7 3-41 3 20 2 24 3-11 3 12 3 2 3-38 3 1 2 32 3-19 3 18 3-4 3-21 3 26 2-7 3-17 3 2 3-1 3 13 3 10 2-6 3-11 3-19 3 23 3-3 3-9 2-3 3 37 3-1 3-44 3 36 3-9 2 21 3-40 3 28 3-24 3 5 3 7 2 11 3-13 3-25 3 36 3-13 3-3 2-23 3 20 3 24 3 2 3-12 3-21 2 26 3-25 3 25 3-20 3-15 3 30 2-4 3 0 3-16 3-3 3 33 3-17 2 25 3 0 3-41 3 11 3-39 3 43 2-8 3 13 3-9 3-3 3-4 3 1 2 30 3-8 3 23 3-21 3-18 3-1 2 32 3-53 3 30 3-4 3-29 3 48 2-16 3-3 3-10 3 12 3-1 3 18 2-21 3 42 3-46 3 12 3-12 3 23 2-19 3 28 3-6 3-9 3-32 3 25 2-1 3 11 3-31 3 31 3 1 3-12 2 6 3-12 3 22 3-32 3 7 3 50 2-40 3 0 3-13 3 10 3 8 3-22 2-4 3 16 3 31 3-29 3 45 3-21 2-9 3-17 3 15 3 38 3-66 3 27 2 20 3-11 3-13 3-9 3 21 3-41 2 55 3-41 3-18 3 26 3 2 3-3 2-20 3 14 3 23 3-6 3 12 3-15 2-19 3 12 3 6 3 3 3 1 3-1 2 7 3 1 3-24 3 30 3-7 3-16 2 9 3-6 3 6 3-32 3 0 3 42 2-19 3 27 3 2 3-18 3 25 3-44 2 18 3-22 3 22 3 15 3-15 3 3 2-20 3 19 3-16 3 13 3-12 3 25 2-5 3-3 3 7 3 7 3-20 3-11 2 2 3 35 3-20 3-23 3 1 3 35 2-23 3 31 3-4 3-27 3-1 3-10 2 26 3-33 3 28 3-13 3 29 3-29 2-6 3 21 3-25 3 26 3-16 3-4 2 4 3 1 3-15 3 28 3-10 3-9 2 30 3-16 3 22 3-53 3 49 3-19 2 24 3-24 3-9 3-2 3 16 3-31 2 19 3-10 3 51 3-28 3-12 3-42 2 44 3-8 3 8 3 1 3-11 3-9 2 15 3 3 3 1 3 0 3 7 3-19 2 27 3-20 3 9 3-10 3 11 3 21 2-17 3-5 3-1 3-10 3-11 3-13 2 34 3 6 3 3 3-41 3 17 3 19 2-13 3 18 3 3 3-34 3 33 3-15 2-6 3 12 3-15 3-15 3 39 3-5 2 0 3-6 3-24 3 22 3 25 3-19 2-6 3 4 3-8 3 4 3 0 3-11 2 7 3 2 3 1 3 38 3-44 3-14 2 17 3-25 3 55 3-37 3 6 3 6 2 11 3-23 3 15 3-9 3 3 3 9 2-19 3 33 3-25 3 16 3-23 3 9 2-12 3 24 3-13 3-10 3-6 3 51 2-27 3 4 3 9 3-12 3 13 3-22 2 6 3 23 3-46 3 21 3-12 3 34 2-30 3 8 3-2 3-15 3 8 3-5 2 24 3-25 3 28 3-12 3 7 3 9 2-7 3-8 3-17 3 8 3 4 3 10 2-12 3-4 3 33 3-22 3 0 3-19 2 2 3 0 3-8 3 15 3 4 3-16 2 3 3 23 3-41 3 22 3 26 3-10 2-3 3 16 3-5 3-10 3-23 3-10 2 6 3 33 3-31 3 2 3 24 3-22 2 10 3-28 3 12 3-2 3-2 3-14 2 11 3 26 3-12 3 10 3-24 3 40 2-40 3 4 3 11 3-14 3 9 3 21 2-17 3-15 3 26 3-30 3 2 3 10 2 1 3-40 3 37 3-15 3-14 3-1 2 0 3-9 3 38 3 6 3-25 3 0 2-1 3 17 3-13 3 20 3-22 3 13 2-50 3 7 3 16 3-8 3-13 3-7 2-10 3 22 3-9 3 15 3-25 3 7 2 4 3 1 3-26 3 4 3 25 3-73 2 39 3-6 3-16 3-32 3 22 3-18 2-4 3-15 3-14 3 9 3-32 3 26 2-23 3-23 3-4 3 1 3-37 3 5 2 16 3-64 3-15 3-41 3-13 3-41 2 17 3-75 3-6 3-59 3-21 3-59 2-42 3 10 3-47 3-61 3-54 3-36 2-62 3-5 3-1 3-78 3 58 3-62 2 29 3-19 3-27 3 15 3 92 3 26 2-14 3 108 3-10 3 120 3-42 3 72 2 20 3 21 3 68 3 2 3 29 3 49 2 2 3 29 3 46 3 35 3 35 3 29 2-8 3 52 3-9 3 6 3 37 3 18 2-12 3 4 3 26 3 1 3-14 3 32 2 8 3 11 3 12 3 22 3-31 3 24 2 17 3-50 3 68 3-13 3 48 3-29 2-25 3 21 3-3 3 16 3-30 3 33 2-7 3 3 3 15 3-2 3 33 3-26 2 10 3-21 3 1 3 39 3-33 3-9 2 1 3 7 3-2 3 7 3 34 3-22 2 14 3 26 3-43 3 1 3-16 3 47 2-12 3-34 3 51 3-3 3-60 3 25 2 34 3-30 3 13 3 15 3-4 3-13 2 21 3 12 3-26 3 50 3-32 3-3 2-26 3 4 3 3 3 29 3-31 3 38 2-5 3-25 3 9 3 27 3-38 3-22 2 26 3 14 3 13 3-6 3 33 3-23 2-11 3 14 3 2 3-17 3 10 3-2 2-7 3-3 3-18 3 16 3-13 3 27 2-10 3-21 3 17 3-3 3-18 3 13 2 12 3 23 3-24 3 9 3 13 3-3 2-15 3 7 3-13 3-3 3 6 3 3 2 13 3-5 3 5 3-41 3 19 3 5 2-18 3-18 3 45 3 26 3-50 3 19 2 28 3-32 3-1 3-15 3 17 3 16 2 2 3-20 3 20 3-35 3 11 3 13 2 0 3 12 3-20 3-30 3 53 3 13 2-24 3-12 3-4 3 9 3-24 3 24 2-8 3-19 3 27 3 6 3 20 3-28 2 26 3-35 3 3 3 12 3-18 3 15 2-16 3 0 3 5 3 19 3-11 3-8 2 34 3-27 3 14 3-6 3 8 3-14 2-9 3 16 3 1 3 4 3-2 3-1 2-22 3 31 3 0 3-16 3 6 3-2 2 20 3-46 3 21 3 14 3-34 3 15 2 36 3-47 3 20 3-13 3 11 3-10 2 15 3-25 3 48 3-20 3 0 3-12 2 10 3-7 3 12 3-14 3 0 3 27 2-4 3 9 3-11 3-41 3 34 3 5 2-8 3 12 3 0 3-12 3 4 3-8 2 21 3-41 3-2 3 36 3-40 3 32 2-6 3 19 3-35 3 0 3 13 3-1 2-10 3-2 3 14 3 11 3-45 3 47 2-6 3-15 3-9 3 5 3-21 3 31 2-1 3-1 3 5 3-24 3 32 3-16 2 3 3 4 3-1 3 8 3-9 3 0 2-17 3 5 3-16 3 27 3-9 3 3 2 11 3-15 3 26 3-40 3 40 3-5 2-22 3 11 3 8 3-23 3 12 3 11 2-8 3-13 3-18 3 33 3 1 3 13 2-13 3-32 3 2 3-7 3 32 3-14 2 5 3-11 3-18 3 28 3-30 3-6 2 15 3 21 3 14 3-15 3-3 3 5 2 6 3 5 3-33 3 3 3 57 3-69 2-15 3 25 3 0 3-5 3 39 3-10 2-31 3 53 3-46 3 9 3-16 3-3 2 22 3 16 3-15 3-10 3-5 3 24 2-45 3 18 3-12 3 10 3-2 3-9 2-7 3 23 3 28 3-30 3-9 3-12 2 22 3-5 3 24 3-38 3 29 3-41 2 20 3 3 3-22 3-23 3 30 3 1 2 12 3-4 3 9 3-47 3 39 3-21 2 3 3-49 3 37 3-10 3-2 3 38 2-58 3 0 3 7 3-3 3-29 3-6 2 15 3-26 3 25 3-24 3-22 3 30 2-10 3-5 3-16 3 0 3-24 3-33 2 14 3-9 3-13 3 1 3 14 3-28 2-20 3-11 3-45 3 39 3-51 3 3 2-24 3-20 3-9 3-56 3-6 3-48 2-24 3-71 3 15 3-35 3-23 3-58 2-38 3-1 3-43 3-15 3-64 3-39 2 22 3-25 3-18 3-8 3-11 3-10 2-14 3 34 3 6 3 12 3-3 3 47 2 49 3 34 3-16 3 84 3-1 3 66 2 7 3 14 3 71 3-21 3 65 3 19 2 34 3 27 3 17 3 38 3-32 3 63 2 27 3-34 3 16 3 31 3 4 3 50 2 5 3-10 3 14 3 48 3-29 3 6 2 54 3-4 3-20 3 25 3-32 3 50 2 39 3-51 3 24 3-8 3-9 3 17 2-2 3-9 3 26 3 9 3 7 3 1 2 2 3-1 3-5 3-14 3 25 3-5 2-14 3 24 3 13 3 16 3-37 3 36 2-30 3 17 3 18 3-19 3-5 3-9 2 35 3-31 3 18 3-4 3 9 3 17 2-14 3 26 3-5 3-30 3-17 3 15 2 0 3 27 3-22 3 10 3-34 3 33 2 16 3-24 3-16 3 10 3 5 3-2 2-1 3 3 3-19 3 8 3-3 3-1 2-26 3 29 3 3 3-29 3 43 3-32 2 0 3 7 3-10 3 11 3-1 3-56 2 31 3 12 3-9 3 0 3-14 3-12 2-19 3 45 3-27 3-5 3-1 3-10 2 1 3 15 3-13 3-29 3 19 3-5 2 8 3-1 3 28 3-41 3 34 3 2 2-14 3-12 3 29 3-21 3 51 3-6 2-45 3 45 3-5 3-2 3 3 3 43 2-36 3 5 3 32 3-15 3-22 3 74 2-36 3-18 3 60 3-33 3-1 3-8 2 20 3-4 3-1 3 18 3-20 3-11 2-3 3 31 3-5 3-12 3 25 3-5 2-20 3-11 3 14 3-8 3 16 3 7 2 4 3-41 3 26 3 15 3 2 3-4 2-9 3 8 3 15 3-19 3-6 3 21 2 3 3-29 3 7 3-11 3 20 3 8 2-9 3-11 3 0 3 16 3 13 3-10 2-2 3 21 3-25 3 0 3-10 3 35 2-4 3-17 3 5 3-20 3 6 3 13 2 8 3-47 3 59 3-10 3-29 3 21 2-11 3-3 3 2 3 0 3 10 3 2 2 12 3-18 3-9 3 15 3 5 3-6 2 18 3-24 3-15 3 29 3 1 3-10 2 1 3-17 3 13 3 6 3-5 3-19 2 23 3-15 3 18 3-3 3 8 3-23 2 16 3 3 3-3 3 15 3-33 3 28 2 3 3-15 3-16 3 14 3 2 3 2 2 14 3-7 3-32 3 38 3-42 3 16 2-16 3 32 3-13 3 24 3-27 3 13 2 20 3-27 3 23 3-13 3-4 3-21 2 20 3 27 3-27 3 7 3 15 3-31 2 11 3 0 3-11 3 18 3 11 3-11 2-9 3 3 3-27 3 31 3-22 3 31 2-28 3 27 3-23 3 0 3-17 3 30 2 0 3 10 3-28 3-12 3 38 3-53 2 23 3 30 3-16 3-18 3 16 3 24 2-22 3-4 3 23 3-26 3 12 3 17 2-45 3 14 3 23 3-13 3 28 3-28 2 3 3-23 3 5 3 39 3-34 3 15 2-8 3 39 3-60 3 33 3-9 3-15 2 11 3 14 3 34 3-23 3-11 3-6 2-25 3 1 3 29 3-31 3 40 3-8 2 13 3-16 3-19 3 32 3-33 3 16 2-4 3-9 3 10 3 4 3-14 3 35 2-30 3 2 3 13 3-12 3 4 3 3 2-28 3 54 3-44 3-10 3 31 3 1 2-3 3-16 3-1 3 15 3-2 3 17 2-16 3 9 3-9 3-26 3 13 3 37 2-18 3 15 3-19 3 0 3-7 3 25 2 7 3-37 3 18 3-15 3 13 3-24 2 1 3 30 3-5 3-5 3 24 3-33 2 8 3 22 3-19 3-8 3 23 3-17 2-4 3-13 3-4 3-3 3 10 3 10 2 10 3-27 3 26 3 17 3 1 3-30 2 50 3-29 3 4 3 10 3-41 3 9 2 7 3 5 3-22 3 30 3-22 3 14 2 5 3-20 3 31 3-34 3-19 3 49 2-19 3-23 3 19 3 11 3-8 3 13 2-24 3 14 3-7 3 1 3 10 3 11 2-19 3-3 3 17 3-7 3-38 3 32 2-6 3-8 3 6 3-1 3 39 3-38 2 3 3-23 3 25 3 15 3-21 3 17 2-3 3-5 3 43 3-54 3 16 3-24 2 33 3-24 3 2 3 20 3-21 3 23 2-41 3 40 3-24 3-19 3 46 3 11 2-20 3 20 3-12 3-25 3 36 3-26 2 18 3-10 3-18 3 6 3-11 3 24 2-27 3 50 3-28 3-26 3 27 3-20 2 37 3-14 3-22 3 36 3-5 3-8 2-25 3 3 3 51 3-62 3 31 3-2 2-22 3-3 3-3 3 40 3-30 3 29 2-5 3-9 3-6 3-2 3 11 3-12 2-11 3 15 3 31 3-6 3-28 3-17 2 6 3 5 3 17 3-5 3 17 3 10 2-28 3 18 3-9 3-19 3 5 3-7 2-15 3 42 3 3 3-7 3-13 3 6 2 4 3-4 3-8 3 4 3 1 3 14 2 2 3-33 3 56 3-31 3-19 3-12 2 29 3 9 3-28 3 6 3 31 3-11 2-4 3-1 3 21 3-38 3 11 3-13 2-9 3-7 3 14 3-3 3 2 3 18 2-17 3-6 3 6 3-3 3 5 3 21 2-25 3 8 3-6 3-6 3 14 3 0 2-7 3 11 3-11 3 13 3-24 3 18 2-4 3-12 3-6 3-5 3-5 3 6 2-1 3 1 3 34 3-34 3-14 3 33 2-7 3-27 3 19 3-8 3 6 3-22 2 6 3-8 3-8 3 6 3 19 3-29 2-9 3-3 3 16 3-15 3-21 3-2 2 10 3 14 3 8 3-8 3-20 3 6 2 9 3-26 3-44 3 76 3-6 3-10 2 13 3-6 3-21 3-7 3 17 3-9 2 11 3 23 3-30 3 22 3 36 3-27 2-19 3 29 3-5 3 23 3-21 3 34 2-3 3 14 3-19 3 19 3-53 3 14 2 25 3-3 3-6 3 16 3 2 3 5 2-32 3 38 3-2 3-12 3-6 3 22 2-10 3 0 3 17 3 12 3-24 3-6 2 9 3-6 3-14 3 32 3-5 3-19 2 10 3 3 3-11 3 30 3-9 3-22 2-8 3 54 3-60 3 47 3-5 3 3 2-25 3 13 3-2 3 30 3-20 3-26 2 30 3 7 3 2 3-20 3 7 3-12 2 9 3 9 3 2 3-33 3 27 3 5 2-2 3-43 3 34 3 21 3 9 3-24 2 1 3-19 3 12 3 4 3 31 3-64 2 53 3-1 3 1 3-32 3 16 3-4 2 9 3-12 3-4 3 0 3-7 3 35 2-32 3 2 3 26 3-18 3 1 3 17 2-14 3 8 3-9 3-31 3 21 3 16 2-11 3 22 3-23 3 3 3-4 3 2 2 34 3-38 3-16 3 13 3-13 3 25 2 1 3-6 3-4 3 3 3-24 3 29 2-7 3 33 3-25 3 4 3-15 3 11 2 16 3-29 3 18 3-3 3 12 3-16 2 5 3-4 3 28 3-7 3-17 3 11 2-23 3 12 3 1 3 3 3 18 3-25 2-2 3 14 3-2 3 15 3 26 3-34 2-14 3-3 3 25 3-34 3 10 3 9 2 0 3-12 3 31 3-6 3 3 3-26 2-7 3 20 3-10 3-1 3-1 3 20 2-26 3 54 3-76 3 26 3 3 3-7 2 8 3-4 3-17 3 26 3 25 3-49 2 9 3-6 3 17 3-20 3 20 3 1 2 5 3 9 3-27 3-3 3 22 3 6 2-19 3-22 3 39 3 0 3-45 3 41 2-15 3-20 3 43 3-10 3 24 3-26 2-6 3 16 3 15 3-16 3-15 3 4 2-6 3-12 3 9 3 9 3-10 3 17 2-21 3 15 3-23 3-8 3 38 3-10 2-9 3 16 3 26 3-30 3 11 3-22 2 7 3-3 3 32 3-17 3-29 3-8 2 58 3-26 3-8 3-8 3 5 3-10 2 5 3-12 3 16 3-6 3 21 3-10 2-29 3 16 3 22 3-16 3-6 3 17 2-5 3-20 3 22 3-8 3-18 3 9 2 11 3-16 3 10 3 8 3-12 3-9 2 1 3 5 3-14 3 45 3-30 3 5 2-1 3 16 3-42 3 33 3-13 3-5 2-18 3 35 3 0 3-7 3-9 3-14 2 8 3 21 3-11 3 13 3-13 3 11 2 4 3-2 3-35 3 26 3-11 3 24 2-21 3 12 3-26 3 15 3-16 3-4 2 13 3-5 3 6 3-34 3 3 3 42 2-34 3 6 3 10 3 3 3 0 3-32 2 23 3-10 3-14 3 5 3 8 3 0 2-19 3 15 3-38 3 16 3-32 3 52 2-20 3-21 3-1 3-1 3-3 3-29 2 10 3 17 3-9 3-27 3 15 3 6 2-42 3-18 3-7 3 36 3-25 3-14 2-18 3 28 3-29 3 2 3-22 3-33 2 40 3-39 3 12 3-15 3-23 3 24 2-12 3-12 3 13 3-37 3 15 3-19 2 1 3 19 3-38 3 38 3-21 3 36 2-35 3 25 3 36 3-9 3 19 3-11 2 41 3-16 3 31 3-24 3 5 3 34 2-16 3 23 3 33 3-27 3-4 3 35 2-23 3 20 3 1 3 9 3 1 3-27 2 49 3 14 3 4 3-7 3 6 3-24 2 8 3 41 3-28 3-12 3 22 3-3 2 15 3 5 3-25 3 23 3 14 3-7 2-12 3 23 3-9 3-21 3 0 3 27 2-24 3 4 3 22 3-6 3-12 3 12 2-9 3 26 3-18 3 33 3-7 3-7 2-8 3-3 3-13 3 30 3 15 3-40 2 2 3-49 3 43 3-11 3 45 3-49 2 17 3 11 3-7 3-27 3 20 3 0 2-8 3-4 3-34 3 33 3-18 3 20 2-33 3-6 3 21 3-9 3-22 3 10 2-7 3 7 3-5 3-27 3 27 3 2 2-50 3 14 3 20 3-44 3 0 3-11 2 41 3-14 3-34 3 26 3-1 3-2 2 1 3 0 3-22 3 24 3-25 3 45 2-41 3 20 3 24 3-26 3 10 3 5 2-1 3 21 3 14 3-26 3 38 3-32 2 15 3-21 3 10 3 41 3-23 3 11 2-14 3 46 3-21 3 1 3 47 3-22 2 4 3-14 3 45 3-29 3 18 3 0 2-23 3 18 3 10 3 7 3-2 3-15 2 17 3 9 3-31 3 23 3 4 3 9 2-12 3 6 3-41 3 24 3-11 3 30 2 17 3-6 3-16 3 29 3-16 3 5 2-10 3 10 3-13 3 14 3 1 3-16 2 27 3-11 3-19 3-13 3 23 3 17 2-18 3 23 3-11 3-3 3 7 3 0 2-8 3 5 3 4 3-8 3 34 3-20 2 4 3 1 3-3 3-13 3-13 3 8 2 31 3-16 3-27 3 20 3 8 3-19 2 7 3 4 3 27 3-25 3-1 3-18 2 34 3-1 3-8 3-6 3 10 3-7 2 5 3 8 3-14 3-5 3 11 3-20 2 0 3 31 3-37 3-2 3 11 3 6 2-4 3 19 3-12 3-32 3 19 3 17 2-37 3 45 3-1 3-11 3 2 3-24 2 26 3 4 3-24 3 23 3 12 3 8 2-17 3-6 3 2 3-13 3 12 3 5 2-19 3 5 3 10 3-11 3 26 3-33 2 16 3 3 3 6 3-19 3-3 3 11 2-1 3-1 3 16 3-21 3 23 3-9 2 13 3-10 3 2 3-7 3-1 3-24 2 42 3 3 3-27 3 18 3-17 3 16 2-23 3 12 3 6 3-10 3 15 3-24 2 6 3 22 3-26 3 6 3-17 3 11 2 6 3 25 3-24 3 15 3-8 3-8 2-4 3 30 3-26 3-4 3-13 3 22 2 1 3 3 3-19 3-3 3-5 3 16 2-3 3 3 3 14 3-16 3 17 3-37 2 41 3-14 3-5 3 5 3-2 3 11 2-10 3 25 3-44 3 14 3 4 3 12 2-30 3 14 3 33 3-25 3 22 3-36 2 16 3 4 3-13 3 3 3-4 3 14 2 6 3 6 3-11 3-4 3-18 3 53 2-8 3-54 3 36 3-7 3-7 3-4 2 17 3 2 3 7 3-27 3 5 3 16 2-8 3-5 3 1 3 10 3-20 3-6 2 30 3-7 3-19 3 10 3 6 3 12 2-10 3-3 3-14 3 11 3-16 3 21 2 22 3-37 3 22 3 11 3-46 3 32 2-16 3 10 3-8 3 5 3 7 3-10 2 7 3 0 3 0 3-7 3-3 3-2 2 29 3-40 3 42 3-15 3 6 3-17 2 18 3-16 3-11 3 9 3-10 3 41 2-20 3-7 3-2 3 23 3-6 3-9 2-10 3 4 3 13 3-25 3 12 3-1 2-10 3 20 3-13 3-7 3-4 3 13 2-18 3 8 3 6 3-5 3 5 3 5 2-29 3 31 3-12 3 3 3 10 3-1 2-15 3-6 3 11 3-26 3 34 3-21 2 13 3-5 3 23 3 0 3-26 3 23 2-17 3-3 3 9 3-13 3 8 3-16 2 9 3 14 3-17 3 28 3-8 3-21 2 16 3-11 3 19 3 2 3-25 3-12 2 40 3-26 3-1 3 10 3-22 3 36 2-21 3-8 3 43 3 0 3-27 3 1 2 4 3-23 3-29 3 51 3-17 3 3 2 6 3 4 3 9 3-20 3-12 3 16 2 3 3-2 3 8 3-6 3-1 3-6 2-19 3 43 3-45 3-6 3 19 3 24 2-20 3 7 3-59 3 44 3-7 3 6 2 6 3 6 3-5 3-6 3 9 3-31 2-1 3 4 3-1 3-7 3 9 3 7 2 0 3-15 3-5 3-2 3-4 3 7 2-26 3 9 3-1 3 42 3-47 3-14 2 14 3-20 3 28 3 27 3-49 3-17 2 15 3-5 3-3 3-10 3 14 3-21 2-12 3 1 3-38 3 5 3 19 3-29 2-10 3 10 3 11 3-33 3-18 3-1 2-5 3 11 3-39 3 18 3 1 3-20 2-13 3 4 3 44 3-38 3 7 3-39 2 19 3-10 3 22 3-9 3 21 3-7 2 24 3-9 3 3 3 6 3-1 3 18 2 19 3-21 3 31 3 3 3-5 3 8 2 45 3-6 3-19 3 9 3-15 3 38 2-19 3 25 3 6 3-25 3 45 3 4 2-2 3 4 3-6 3 17 3-4 3 0 2-4 3 5 3 8 3 20 3-4 3-22 2 32 3 3 3-11 3 12 3-23 3 3 2 1 3 25 3-4 3-31 3 28 3-18 2 27 3-5 3 14 3-11 3 2 3 16 2 13 3-21 3 17 3 9 3-16 3-22 2 24 3-15 3 5 3 16 3-9 3-10 2-13 3 32 3-12 3 5 3-18 3 2 2 23 3-12 3 9 3 3 3 12 3 1 2-29" stroke="#008080" stroke-width="42.0" />
<path d="M1278 8926l3-25 3 4 3 15 2-6 3-5 3-17 3-12 3 27 3-17 2 26 3-12 3-18 3 19 3 9 3-10 2-18 3 20 3 2 3 9 3-2 3-30 2 8 3 20 3-43 3 47 3-30 3 8 2 35 3-28 3-4 3 11 3-7 3-10 2 17 3 36 3-23 3-9 3-3 3 11 2-3 3-28 3 26 3-8 3 31 3-36 2 28 3-45 3 28 3-19 3-3 3 31 2-33 3 17 3-11 3 21 3-2 3-45 2 54 3-25 3 50 3-21 3 2 3-62 2 77 3-31 3-25 3 30 3 19 3-53 2 49 3-25 3-4 3 3 3-8 3 20 2 1 3 14 3 7 3-31 3 26 3-41 2 33 3-31 3 10 3 21 3-24 3 22 2-35 3 14 3 23 3 17 3-47 3 49 2-23 3 36 3-46 3-4 3 16 3-25 2 22 3-4 3 26 3-18 3-28 3-1 2 6 3-19 3-1 3 76 3-52 3 38 2-36 3 6 3-23 3 54 3-30 3 38 2-43 3 36 3 4 3-54 3 36 3-27 2-2 3 24 3 12 3 10 3-30 3 24 2-7 3-10 3-17 3 18 3 63 3-80 2 14 3-13 3 41 3 8 3-8 3 12 2-37 3 32 3-45 3 43 3-1 3-38 2 29 3-36 3-6 3 0 3 6 3-1 2 19 3 34 3-36 3-11 3 28 3-16 2 6 3 6 3 1 3-20 3 8 3 21 2-23 3 2 3 10 3 3 3-13 3 16 2-10 3-24 3 36 3-28 3 72 3-50 2-10 3 20 3 12 3 1 3-22 3 14 2-7 3-11 3-28 3 27 3-46 3 30 2 41 3-21 3-4 3-15 3 0 3 4 2-13 3-16 3 60 3 11 3-41 3 25 2-36 3 29 3-31 3 41 3-16 3-23 2 32 3 20 3-29 3-1 3 1 3 2 2 20 3 1 3-61 3 60 3-26 3 34 2-22 3 9 3-26 3-15 3 28 3 13 2-4 3 1 3-10 3 9 3-28 3 13 2-26 3 27 3-4 3 6 3 18 3-18 2-53 3 77 3-22 3 11 3-28 3 29 2 12 3-56 3 51 3-39 3 3 3 14 2 37 3-69 3 21 3 12 3 11 3-14 2 10 3-26 3 32 3 5 3-38 3 5 2 21 3-1 3 4 3-32 3 15 3-1 2 32 3-25 3-8 3-7 3 16 3 22 2-49 3 29 3 8 3 26 3-23 3 12 2-24 3-25 3-1 3 13 3 15 3-7 2-3 3 40 3-74 3 23 3 62 3-37 2-18 3-8 3 35 3-2 3 2 3-37 2 25 3-6 3 12 3-37 3 40 3 16 2-51 3 40 3 14 3-14 3-16 3 3 2-12 3 14 3-22 3 19 3-16 3-10 2 52 3-59 3 64 3-70 3 55 3-13 2-31 3 19 3-9 3 2 3 32 3-36 2-13 3 54 3-13 3-7 3-5 3 18 2-6 3-8 3-9 3 30 3 6 3-17 2 45 3-49 3 0 3 23 3-21 3-1 2-10 3 14 3-37 3 16 3-6 3-19 2 58 3-25 3-10 3 23 3-29 3 38 2 9 3-50 3 46 3-17 3 17 3-17 2-18 3-13 3 9 3 11 3 27 3-7 2-6 3 20 3-57 3 12 3 0 3 21 2-30 3 19 3 34 3-6 3 10 3-37 2-8 3 23 3-21 3 15 3-1 3 12 2 16 3-1 3-8 3-19 3 15 3-18 2-9 3-11 3 17 3 18 3 4 3-11 2 9 3-20 3 39 3-26 3-8 3 17 2-14 3 9 3 20 3-40 3 10 3 1 2 4 3 32 3-17 3 8 3-67 3 53 2-4 3 5 3-9 3-11 3 23 3-15 2 3 3-10 3 7 3 13 3 5 3-15 2 2 3-5 3 19 3-22 3 2 3 7 2-9 3 12 3 23 3-27 3 25 3-9 2-13 3 9 3 13 3-39 3 26 3 10 2-34 3 35 3-11 3-24 3 21 3-31 2 3 3-5 3 30 3-11 3-6 3 4 2 7 3-4 3-3 3 11 3-18 3 7 2 28 3-13 3-36 3 55 3-39 3 41 2-25 3 14 3-44 3 16 3 2 3 1 2-3 3 2 3 9 3-8 3 7 3 8 2-34 3 25 3-12 3 14 3 12 3-32 2 16 3 21 3 2 3-25 3 22 3-9 2-4 3-8 3 12 3 6 3-21 3 18 2-25 3-1 3 27 3-12 3-9 3 18 2 6 3-10 3 22 3-33 3 0 3 24 2-29 3 26 3-35 3 9 3 13 3-4 2 30 3-38 3 14 3 3 3-4 3 19 2-26 3 1 3-7 3 28 3-9 3 0 2-1 3-20 3 24 3-2 3 16 3-15 2-18 3 7 3 32 3-45 3-2 3 23 2 18 3-20 3-18 3 49 3-43 3 23 2 9 3-20 3 8 3 13 3-41 3 30 2 6 3 1 3-24 3 13 3-15 3-1 2-5 3 23 3-6 3 13 3-50 3 21 2 18 3 20 3-35 3-15 3 17 3 7 2 13 3 4 3-6 3-11 3 31 3-40 2 10 3 9 3-16 3 4 3 12 3-21 2 10 3 0 3 34 3-20 3-21 3 20 2-25 3 21 3-29 3 33 3-12 3-17 2 25 3 5 3-6 3-3 3-20 3 29 2-41 3 22 3 35 3-46 3-5 3 11 2 18 3-6 3 14 3-13 3-14 3 26 2-20 3 17 3 9 3-12 3 11 3-34 2 11 3 8 3-18 3 33 3-1 3-10 2 2 3-10 3-12 3 5 3 5 3 7 2-5 3 5 3-21 3 8 3 12 3 10 2-34 3 26 3 5 3-11 3 2 3-6 2 4 3-4 3-14 3 36 3-13 3-11 2 24 3-21 3 12 3-30 3 14 3 21 2 5 3 5 3-5 3 4 3-31 3-9 2-13 3 32 3-5 3 23 3-23 3 24 2-41 3 42 3-23 3 18 3-5 3-23 2 22 3-19 3 19 3-4 3-2 3-7 2-1 3 4 3-31 3 42 3-13 3 4 2-15 3 16 3-10 3 26 3-38 3 33 2-25 3 14 3-7 3-9 3-14 3 35 2-30 3 15 3 22 3 0 3-13 3-23 2 18 3 3 3-11 3 26 3-13 3 1 2-5 3-16 3 6 3-1 3 27 3-14 2 5 3-1 3 0 3 16 3-10 3-7 2-1 3 16 3-39 3 37 3-22 3 12 2-8 3 3 3-3 3-40 3 30 3 4 2-6 3-7 3 29 3-19 3 14 3 13 2-27 3 11 3 16 3-17 3-1 3-20 2 41 3-19 3-13 3 26 3-15 3 5 2-7 3 16 3 0 3-13 3 5 3 18 2-16 3-7 3 22 3-24 3 9 3-15 2 4 3 4 3 12 3 6 3-17 3 14 2-10 3 9 3-17 3 12 3-4 3 3 2 27 3-25 3 12 3-4 3-29 3 22 2 7 3-30 3 9 3 47 3-38 3-6 2 5 3-10 3 11 3 1 3-6 3 18 2 3 3-8 3-20 3 2 3-10 3 19 2-10 3-1 3-2 3 9 3-1 3-16 2 30 3-16 3-18 3 24 3-20 3 29 2-6 3-10 3 19 3-37 3 12 3-8 2-8 3-5 3 25 3-16 3-10 3 3 2 40 3-36 3-10 3 4 3 14 3-17 2-2 3-1 3-7 3 1 3 17 3-21 2 0 3-36 3 40 3 4 3-25 3 11 2-21 3 14 3-3 3-34 3 37 3 0 2-21 3-16 3 10 3-5 3 9 3-16 2-5 3 10 3-9 3-12 3-15 3-6 2-4 3-7 3-1 3 15 3-26 3-6 2-31 3 34 3-26 3 5 3-10 3-24 2 6 3-37 3 1 3 21 3-46 3 8 2-19 3-25 3 21 3-39 3-2 3 5 2-73 3 4 3-3 3-37 3 0 3-31 2-31 3-21 3-49 3-42 3-36 3 7 2-58 3 9 3-87 3-51 3-48 3 25 2-73 3-38 3-89 3 8 3-123 3-23 2-67 3-24 3-111 3-42 3-55 3-51 2-52 3-32 3-39 3-74 3-29 3-19 2-12 3-24 3 16 3 1 3 30 3-14 2 54 3 18 3 13 3 77 3 75 3 39 2 45 3 99 3 72 3 45 3 58 3 11 2 97 3 76 3 44 3 23 3 69 3 15 2 41 3 55 3 38 3 16 3 42 3 55 2 2 3 40 3 30 3 37 3 6 3 29 2 36 3-7 3 16 3 6 3 51 3-2 2 14 3-5 3 35 3 5 3 22 3 11 2 17 3 34 3-30 3 24 3 3 3 12 2 15 3 18 3-3 3 8 3 13 3 0 2-2 3 12 3 8 3-18 3 37 3-3 2 12 3-2 3-14 3 11 3 13 3-12 2 35 3-27 3 39 3-14 3 7 3-19 2 14 3 2 3 25 3 10 3 0 3-50 2 33 3-13 3 16 3-2 3-13 3 8 2 24 3-8 3-4 3 11 3-13 3 22 2-10 3 18 3-35 3 29 3-7 3-10 2 6 3 13 3 8 3-12 3 4 3-2 2 1 3 29 3-13 3 11 3-22 3 10 2-6 3 15 3-9 3 17 3-16 3-6 2-7 3 6 3 16 3-14 3 7 3 9 2 6 3-27 3 9 3-11 3 17 3-2 2 3 3-17 3 10 3-14 3 27 3-13 2-2 3 11 3 5 3-14 3 7 3 3 2-7 3-8 3 3 3 17 3-6 3-16 2 7 3 14 3-8 3-10 3-4 3 15 2 17 3-22 3-8 3-1 3 22 3-35 2 16 3 5 3-7 3 30 3-22 3-1 2 10 3-14 3-20 3 22 3-10 3-2 2 21 3-26 3 9 3-1 3 2 3 20 2-37 3 8 3 12 3-14 3-11 3 1 2 17 3-31 3 33 3-1 3-23 3 0 2-2 3-13 3 5 3-34 3 1 3 5 2-2 3 10 3-9 3 2 3-16 3-7 2-1 3-24 3-9 3-5 3-20 3 1 2-7 3-22 3-10 3-10 3 10 3-12 2-47 3 10 3-34 3-33 3-8 3-28 2-21 3-31 3 3 3-47 3-5 3 2 2 5 3-44 3-6 3 5 3-17 3 26 2-55 3 52 3-7 3 31 3 36 3-2 2 12 3 29 3 13 3 29 3 13 3 14 2 10 3 48 3 4 3 3 3 16 3 33 2 0 3 28 3 24 3 39 3-28 3 26 2-32 3 21 3 18 3 11 3-19 3 40 2 0 3 3 3 6 3-7 3 23 3-5 2-3 3 15 3-16 3 11 3 3 3 11 2-4 3 9 3-16 3 4 3 23 3-4 2-7 3 15 3 2 3 10 3-5 3-12 2 11 3 13 3-4 3-13 3 23 3-21 2 7 3-18 3 23 3 4 3-5 3 3 2-7 3 15 3-11 3 13 3-1 3-3 2 4 3 0 3-4 3-15 3 37 3 8 2-22 3-11 3 12 3-18 3 23 3 12 2-12 3 1 3-28 3 19 3-11 3 35 2-20 3-2 3 10 3 7 3-5 3-15 2 13 3 2 3-9 3 12 3-17 3 16 2 7 3-8 3-15 3 16 3 5 3-1 2-19 3 10 3 2 3 35 3-27 3-11 2 17 3-16 3 3 3 19 3-4 3-11 2-12 3-26 3 36 3-12 3 24 3 1 2-29 3 0 3 10 3 7 3 10 3-27 2-10 3 22 3-3 3 5 3 18 3-23 2 19 3-15 3 8 3 5 3-12 3-17 2 7 3 10 3-17 3 2 3 10 3-5 2 21 3 0 3-40 3 38 3-16 3 7 2 19 3-15 3-5 3-7 3 13 3 5 2 3 3-15 3 30 3-25 3 23 3-21 2 20 3-1 3-29 3 8 3 0 3 11 2-20 3-3 3 51 3-27 3 5 3-12 2 2 3 5 3-5 3-6 3-1 3 21 2-26 3 17 3-7 3-4 3 13 3-16 2-21 3 37 3-8 3 2 3 9 3-15 2 18 3-20 3 31 3-43 3 15 3-4 2-12 3 3 3 13 3-22 3 21 3 10 2-24 3 4 3-8 3 12 3 4 3-9 2 2 3 11 3 3 3-20 3 8 3-2 2-11 3 19 3 6 3-2 3-14 3 25 2-3 3-19 3 4 3 16 3-18 3 21 2 5 3-20 3 2 3-1 3 17 3-6 2-24 3-4 3 9 3 4 3-8 3 24 2-11 3 11 3 1 3-24 3 37 3-5 2-23 3-8 3 0 3 17 3-13 3 11 2 19 3-24 3-4 3 10 3-1 3-17 2-10 3 20 3-3 3-1 3 7 3 6 2-17 3 20 3-20 3 9 3 5 3 7 2 6 3-10 3-6 3 6 3 0 3-14 2 9 3-4 3 7 3-25 3 3 3-10 2 39 3-16 3 6 3-25 3 32 3-4 2 14 3 3 3-15 3-3 3 2 3-5 2-3 3 4 3 3 3-13 3 6 3 28 2-30 3 1 3 11 3-18 3 7 3-14 2 18 3-11 3-15 3 32 3 5 3-13 2 28 3-47 3 2 3 21 3 12 3-15 2-3 3-9 3 39 3-32 3 16 3-5 2-23 3 31 3-20 3 14 3 2 3-10 2 26 3-5 3-19 3 12 3 6 3 7 2-28 3 32 3-40 3-4 3 25 3-22 2 36 3-48 3 25 3 9 3-32 3 37 2-34 3 24 3-1 3 0 3 8 3 0 2-22 3-2 3 14 3-24 3 41 3-21 2 35 3-24 3-16 3-6 3 31 3-61 2 38 3 35 3-30 3 10 3-9 3 8 2-19 3 12 3 16 3-17 3 2 3 15 2-2 3-12 3-14 3-4 3 18 3-2 2 23 3 19 3-20 3-29 3 2 3-18 2 26 3 0 3 9 3-26 3 17 3-4 2 14 3-34 3 38 3-18 3-1 3-16 2 14 3 7 3-8 3 6 3-18 3 15 2-12 3-13 3 6 3 15 3 9 3-4 2 18 3-14 3-4 3-7 3 14 3-9 2-25 3 26 3 0 3-1 3 40 3-30 2 3 3-3 3-15 3 10 3 0 3 1 2-15 3 15 3-9 3-12 3 2 3 8 2 5 3-17 3-4 3 8 3 6 3 29 2-15 3-38 3 24 3 9 3 13 3-16 2 26 3-34 3 39 3-34 3 4 3 6 2-13 3-8 3 22 3-3 3 19 3-10 2-21 3 16 3-19 3-12 3 19 3-5 2-1 3 23 3-15 3-12 3 6 3 10 2-33 3 36 3-4 3 4 3 12 3-1 2-25 3 23 3-13 3-20 3 16 3-2 2 9 3-18 3 0 3 16 3-15 3 4 2-3 3 14 3-2 3-9 3-35 3 50 2-23 3 15 3-9 3-19 3 33 3-15 2 6 3 3 3 31 3-40 3 3 3-5 2 5 3 8 3-8 3 6 3-3 3-1 2-1 3 37 3-46 3 11 3-14 3 23 2 0 3-11 3-13 3 25 3 7 3-41 2 12 3 9 3 1 3 1 3 9 3-14 2 3 3 10 3-13 3 25 3-19 3 13 2-10 3 7 3-10 3 1 3 4 3-12 2 28 3-32 3 27 3-22 3 17 3-6 2 11 3 23 3-6 3-41 3 7 3-13 2 14 3-21 3 23 3-27 3 42 3-28 2-12 3 9 3 9 3-19 3 39 3-18 2-14 3-10 3 20 3 2 3 5 3-13 2-11 3 24 3-15 3-12 3 13 3-3 2-5 3 17 3-49 3 48 3-18 3-1 2 1 3 9 3-22 3 15 3 15 3-3 2-28 3 3 3-10 3 0 3 32 3 1 2-32 3 44 3-8 3-12 3-15 3-3 2 19 3-5 3-30 3 24 3-1 3 16 2-34 3 7 3 1 3-1 3-8 3 28 2-34 3 4 3-8 3 9 3 18 3-14 2 7 3-4 3-13 3-25 3 28 3-6 2-4 3-5 3 1 3-9 3-3 3 0 2 11 3 20 3-19 3-40 3 28 3 3 2 3 3-24 3-18 3 33 3-23 3 32 2-49 3 44 3-52 3 44 3-30 3 8 2-10 3 3 3-16 3 3 3-36 3 11 2-24 3 12 3-1 3-12 3 12 3-11 2-11 3-3 3 0 3-46 3-3 3-3 2-28 3-3 3-30 3-7 3 31 3-42 2-44 3 23 3-28 3-46 3 3 3-11 2-11 3-37 3 10 3-50 3 25 3-53 2-17 3-32 3-81 3 19 3-3 3-52 2-63 3-65 3 12 3-71 3-18 3-20 2-27 3-76 3 12 3-36 3-41 3-19 2 2 3 22 3-54 3 32 3-36 3 18 2 27 3 18 3 23 3 12 3 33 3 36 2 58 3 27 3 44 3 43 3 9 3 23 2 32 3 82 3 17 3 43 3 23 3 3 2 40 3 18 3 64 3-7 3 41 3-6 2 42 3-1 3 3 3 51 3-19 3 22 2 33 3 7 3-1 3 20 3 33 3-23 2-20 3 69 3-17 3 13 3 26 3-12 2 11 3 29 3-1 3-5 3-6 3 4 2 35 3 0 3-19 3 24 3-32 3 47 2-1 3-12 3 33 3-8 3-7 3 3 2 4 3 20 3 0 3-13 3-9 3 18 2 11 3-15 3 3 3 11 3 10 3 7 2 8 3-41 3 44 3-8 3-11 3 22 2-41 3 5 3 57 3-47 3 24 3-18 2 11 3-7 3 31 3-43 3 31 3-14 2 1 3 28 3-24 3 13 3 9 3-5 2 10 3 6 3-10 3-8 3 5 3-4 2 20 3-23 3 16 3 5 3-19 3-11 2 35 3-10 3-2 3 2 3 3 3 4 2-7 3-7 3 17 3 3 3-18 3-18 2 43 3-2 3-1 3-17 3 23 3-9 2-11 3-5 3 34 3-20 3-3 3-12 2 24 3-13 3 28 3-22 3 5 3-18 2-5 3 4 3 6 3-11 3 3 3-3 2 25 3 6 3-22 3 32 3-15 3-5 2 4 3 20 3-14 3 6 3 27 3-45 2 0 3 10 3-20 3 5 3-2 3 36 2-17 3-13 3-6 3 22 3 3 3-18 2 19 3-22 3 26 3-10 3-10 3-16 2 21 3 5 3 20 3-32 3 4 3-10 2 19 3-10 3-10 3 9 3 0 3-7 2 15 3-12 3 2 3 6 3-22 3 25 2-7 3-6 3 36 3-19 3-17 3-10 2 11 3 29 3-49 3 36 3-21 3 18 2 29 3-15 3-11 3-9 3 14 3-22 2-2 3 15 3 24 3-21 3 12 3-24 2 10 3-22 3 22 3-11 3 26 3-7 2-1 3 8 3-22 3-27 3 8 3 24 2-18 3 7 3 2 3 12 3-42 3 47 2-1 3-9 3-1 3 27 3-25 3-35 2 53 3-35 3 17 3 22 3-36 3 9 2 13 3-12 3 14 3-18 3 1 3 5 2-1 3 8 3 7 3 6 3-37 3 13 2 6 3 14 3-3 3-26 3 42 3-30 2 35 3-44 3 3 3 29 3-27 3 7 2 15 3-9 3 21 3-37 3 11 3-12 2 20 3 2 3-6 3-22 3 22 3-21 2 3 3 4 3 7 3 5 3-17 3 7 2 29 3-29 3 8 3-15 3 40 3-41 2 6 3-1 3 0 3 14 3-15 3 12 2 18 3-43 3 9 3-8 3 14 3-8 2 14 3-54 3 59 3-23 3 12 3-32 2 45 3-46 3 9 3 21 3-18 3 4 2 38 3-23 3-12 3-3 3 18 3-1 2-15 3-24 3 17 3-26 3 20 3 22 2 11 3-2 3-11 3 5 3-35 3 29 2-34 3 10 3 16 3 27 3-39 3-5 2 20 3 2 3-28 3 18 3-14 3 20 2-5 3-5 3-4 3 6 3-19 3 35 2 5 3-18 3-29 3 39 3-46 3 29 2-1 3-9 3 10 3 5 3-40 3 32 2-29 3 8 3-17 3 8 3 4 3-10 2 8 3-10 3-3 3-1 3-7 3 27 2-43 3 40 3-34 3-16 3-7 3 10 2 3 3 3 3 17 3-51 3 27 3-4 2-31 3 17 3 11 3-11 3-35 3 27 2-26 3-13 3-10 3 11 3-21 3 1 2-23 3-6 3-2 3-10 3-23 3-5 2-19 3-5 3-38 3-1 3 14 3-30 2-21 3-38 3 5 3-26 3-25 3 16 2-83 3 15 3-6 3-24 3-34 3-32 2-33 3-16 3-32 3-27 3-23 3-2 2-46 3-36 3-29 3 12 3-61 3 53 2-51 3 22 3 19 3-14 3 23 3 30 2-23 3-28 3 74 3-3 3 37 3 21 2-22 3 74 3-20 3 39 3 1 3 84 2-8 3 35 3-19 3 43 3 52 3 31 2-4 3 5 3 32 3 23 3 21 3 9 2 40 3-22 3 37 3 10 3 23 3-27 2 31 3 19 3 20 3-2 3 20 3-6 2 3 3-7 3 44 3 43 3-70 3 25 2-2 3 24 3 32 3-31 3 29 3-12 2-13 3 5 3 35 3-17 3 30 3-12 2 3 3-20 3 15 3-19 3 37 3-7 2 26 3-28 3 15 3-9 3 23 3-30 2 20 3-5 3-25 3 21 3 33 3-2 2-16 3 25 3-15 3 5 3-9 3-11 2 10 3 22 3-23 3-35 3 44 3-12 2-30 3 33 3 0 3 3 3 8 3-12 2 5 3-15 3-5 3 17 3-9 3-3 2-5 3 11 3-22 3 9 3-5 3 33 2-17 3-7 3 21 3-49 3 24 3 8 2-22 3-8 3-3 3 7 3-5 3-14 2 20 3-4 3-12 3-42 3 24 3-8 2-20 3 20 3-28 3 26 3-1 3-19 2 24 3-46 3 43 3-22 3-7 3 1 2 29 3-22 3-3 3 43 3-29 3 37 2-33 3 15 3-18 3 8 3 15 3-17 2 21 3-1 3 12 3 28 3-14 3 3 2-4 3 25 3 1 3 22 3-11 3 10 2-5 3 21 3-39 3 30 3-17 3-5 2 22 3-9 3 28 3-7 3-11 3 2 2 23 3-7 3 18 3-26 3 44 3-40 2-19 3 33 3 23 3-32 3-7 3-12 2 16 3 14 3 4 3 6 3 16 3-32 2 25 3-12 3 24 3-16 3 2 3 0 2-13 3-3 3 13 3-13 3 36 3-40 2 23 3 1 3-10 3 3 3 8 3 10 2-10 3 3 3-3 3 36 3-52 3-15 2 51 3-2 3-12 3-23 3 38 3-7 2-1 3 8 3-25 3-7 3 17 3-3 2-7 3 10 3-17 3 15 3 14 3-31 2 8 3-2 3-10 3 27 3-6 3-11 2 21 3-15 3 10 3-8 3 11 3 10 2-31 3 18 3-5 3-3 3 6 3-5 2 22 3-17 3-1 3 25 3-12 3-17 2 4 3 6 3-5 3-4 3 6 3-9 2 31 3-3 3-27 3 22 3-16 3-10 2 13 3 12 3 7 3-18 3 0 3 12 2 4 3-36 3 37 3-30 3 29 3 6 2-19 3-10 3 6 3 19 3-26 3-11 2 29 3-7 3-8 3 21 3-1 3-10 2-4 3-7 3 8 3-27 3 10 3 9 2 15 3-33 3 23 3 16 3-11 3-11 2 27 3-3 3 3 3-17 3-5 3-10 2 11 3 2 3 4 3 15 3-12 3-2 2-14 3 1 3 11 3 7 3 0 3-10 2 0 3-23 3 55 3-29 3-14 3 1 2 15 3-8 3 10 3-21 3 17 3 19 2-25 3-5 3-1 3 4 3 6 3 20 2-2 3-34 3 17 3-12 3 13 3-8 2 18 3-9 3 18 3-13 3 18 3-20 2-12 3 31 3-22 3-24 3 32 3 9 2-25 3 7 3 12 3-8 3 0 3-22 2 6 3-3 3 30 3-8 3-5 3 15 2 8 3-19 3-18 3 14 3-27 3 20 2 7 3-20 3 24 3 8 3-19 3 1 2 19 3-5 3 11 3-2 3-33 3 10 2-6 3 10 3-17 3 19 3-2 3 13 2 11 3 2 3-51 3 32 3-3 3-19 2 40 3-26 3 13 3 7 3-17 3 24 2-48 3 43 3-34 3 29 3-24 3 8 2 16 3 1 3 12 3-3 3-34 3 9 2 15 3-9 3-11 3 12 3 7 3 2 2 8 3-30 3 10 3 6 3-24 3 10 2 3 3-11 3-3 3 36 3-37 3 34 2-5 3-20 3 21 3-19 3 4 3-2 2-2 3 22 3-11 3 6 3-4 3 37 2-55 3 21 3 14 3-29 3 8 3 22 2 6 3-7 3 10 3-24 3-4 3 14 2 7 3-32 3 37 3-24 3-16 3 33 2-23 3-9 3 22 3-18 3-6 3 31 2-36 3 17 3 16 3-10 3-20 3 7 2-2 3 20 3-27 3 46 3-34 3 2 2-16 3 21 3-9 3-2 3-15 3 41 2-18 3-17 3 7 3 19 3-11 3 7 2-21 3 28 3-34 3 19 3-23 3 30 2 0 3-6 3 7 3 5 3-26 3 8 2-7 3 28 3-42 3 11 3 6 3 3 2 25 3-33 3 11 3 4 3 8 3-10 2 4 3-3 3 3 3-1 3-24 3 24 2-5 3-1 3 10 3 6 3 5 3-15 2-4 3 4 3-22 3 14 3-10 3 41 2-15 3-7 3 13 3-1 3-13 3 9 2-8 3 10 3-20 3 6 3 3 3 6 2-21 3 14 3-14 3 10 3-26 3-5 2 23 3 6 3-15 3 43 3-43 3-1 2 13 3-7 3 12 3-18 3 23 3-29 2 8 3 6 3-11 3 19 3-5 3 8 2-24 3 10 3 2 3 12 3-10 3 5 2 1 3 8 3-14 3-27 3 17 3 28 2-28 3 13 3 15 3-28 3 1 3-6 2 22 3-16 3-13 3 4 3-4 3-10 2 27 3 4 3 7 3-30 3 18 3 18 2-62 3 13 3-1 3 38 3-22 3-8 2-5 3-6 3-10 3 9 3-16 3 24 2-9 3 0 3 19 3-13 3-9 3-4 2-15 3 16 3-16 3-13 3 0 3 2 2-18 3 17 3 20 3-59 3 2 3 1 2 0 3-18 3 22 3-24 3 13 3-9 2-22 3 9 3 23 3-45 3-9 3 40 2-38 3-13 3-17 3 38 3-5 3-30 2 31 3-28 3 39 3 13 3-13 3 23 2-42 3-1 3 50 3-32 3 25 3 34 2-12 3-7 3 5 3 24 3-23 3 21 2 2 3 6 3-2 3-4 3-6 3 39 2-15 3 23 3-4 3-35 3 41 3-9 2 18 3-22 3 28 3 15 3-48 3 25 2 7 3 11 3 1 3-18 3 13 3 11 2-21 3 13 3-3 3 5 3-24 3 35 2-9 3 13 3 3 3 0 3 1 3 1 2 10 3-25 3-17 3 24 3 2 3 10 2-6 3-7 3 18 3-15 3-15 3-9 2 20 3 36 3-28 3-6 3 9 3-22 2 42 3-35 3 2 3 7 3 24 3-3 2-5 3-1 3-32 3 45 3-13 3-12 2-7 3 20 3-21 3 10 3 30 3-31 2 10 3-4 3 19 3-24 3 20 3 2 2-7 3-10 3 14 3-21 3-18 3 37 2-20 3 11 3 4 3 15 3-34 3 32 2-11 3-9 3 1 3 4 3 12 3-7 2-16 3 0 3 11 3-17 3 43 3-3 2-24 3 11 3-32 3 58 3-50 3-2 2 54 3-41 3 15 3-23 3 14 3 8 2-2 3-5 3 0 3 3 3 4 3 11 2-25 3 3 3-5 3 5 3 0 3 7 2-8 3 30 3-17 3-4 3 6 3-13 2 22 3-33 3-1 3 20 3-4 3-6 2-6 3 2 3 34 3-17 3-41 3 40 2 3 3 0 3-19 3 13 3 11 3-14 2-8 3 4 3 11 3-23 3 23 3-21 2 12 3-8 3 8 3-15 3 8 3 5 2-14 3 1 3 30 3-10 3-7 3 2 2-7 3 13 3-4 3-14 3 7 3 3 2 2 3-20 3 26 3-10 3 9 3-13 2-11 3-4 3-6 3 15 3 16 3 15 2-22 3-14 3 18 3-4 3 7 3-21 2 17 3-10 3 19 3-19 3 11 3 2 2 12 3-21 3-2 3-8 3-8 3 24 2 5 3 4 3-7 3 28 3-14 3-10 2-3 3 3 3-24 3 17 3-8 3 3 2 1 3 4 3-14 3-2 3 1 3 23 2-18 3-7 3 25 3-10 3-2 3 0 2-24 3 12 3-6 3 2 3 15 3 30 2-17 3 3 3-34 3 28 3-14 3-13 2 4 3 17 3 31 3-41 3-1 3 14 2-22 3 20 3 2 3 4 3-17 3-7 2-14 3 42 3-55 3 34 3-1 3-6 2 17 3 13 3-28 3 9 3 0 3-13 2 3 3 0 3-12 3 17 3 0 3-13 2 17 3-35 3 1 3 36 3-36 3 28 2-28 3 19 3-5 3-7 3 2 3-5 2-20 3 29 3-22 3 29 3-7 3-26 2 25 3-17 3-29 3 36 3-17 3-4 2 11 3 5 3-15 3 1 3-30 3 21 2-7 3 1 3 12 3-8 3 4 3-31 2-5 3 21 3-23 3 22 3-37 3 17 2-6 3-44 3 32 3 10 3-19 3-4 2-6 3-12 3-3 3-22 3 15 3-16 2-18 3-11 3 0 3-6 3-28 3 0 2 41 3-42 3-27 3-12 3-15 3 0 2-3 3-2 3 8 3-23 3-52 3 1 2-11 3 16 3 9 3-4 3-38 3 38 2-38 3 39 3 13 3-2 3 17 3-21 2 11 3 9 3 15 3-14 3 43 3 24 2-12 3-6 3 20 3-5 3 27 3-11 2 25 3 8 3-25 3 69 3 9 3-22 2 31 3-9 3 10 3 7 3-26 3 34 2-1 3 19 3 10 3-24 3-14 3 24 2-17 3 40 3-12 3 25 3-20 3 33 2-51 3 36 3-12 3 8 3 29 3-32 2 12 3 0 3 16 3-20 3 0 3-8 2 24 3 2 3-41 3 27 3 13 3-10 2 3 3-9 3 24 3 28 3-50 3 0 2 5 3 17 3 5 3-16 3-3 3 12 2-25 3 17 3-23 3 9 3 17 3-27 2 1 3-13 3-8 3 31 3-23 3 14 2-14 3-7 3 22 3-32 3 15 3-30 2 13 3-1 3 10 3-22 3-3 3 13 2-31 3 16 3-1 3-18 3-11 3-9 2 3 3-31 3-8 3-12 3-1 3-3 2 25 3-25 3-7 3-23 3 20 3-13 2-10 3-12 3-12 3 18 3-5 3-13 2 15 3 0 3 19 3-23 3 10 3 3 2 23 3 7 3-19 3 24 3 4 3 18 2-12 3 29 3 7 3-9 3 43 3-28 2 17 3 18 3 3 3-16 3 24 3-12 2 19 3-11 3 50 3 2 3-13 3-15 2 10 3 49 3-36 3 0 3 28 3-36 2-2 3 39 3-26 3 29 3 11 3-15 2 26 3-27 3-6 3 17 3 5 3-11 2 29 3-31 3 23 3 21 3-7 3 5 2 0 3-8 3 6 3-9 3-37 3 40 2-32 3 12 3 20 3 15 3-29 3-11 2 15 3-5 3 23 3-21 3 24 3 12 2-10 3-3 3 17 3-10 3 2 3-1 2-38 3 25 3 29 3-31 3 21 3-16 2 9 3-20 3 7 3 14 3 3 3-19 2-4 3 30 3 0 3 1 3 10 3-5 2-4 3 1 3-9 3 1 3 7 3 4 2 12 3-17 3 2 3 8 3-11 3-11 2 6 3 2 3-5 3-5 3 24 3 5 2-28 3 35 3-42 3 24 3 0 3-15 2 24 3-15 3 2 3-14 3-13 3 13 2 27 3-32 3 12 3 0 3-9 3 14 2 3 3 0 3 11 3-5 3 19 3-6 2-15 3 1 3-5 3 9 3-12 3 6 2 11 3 3 3-4 3-15 3 6 3-17 2-7 3 24 3 17 3-48 3 16 3 26 2-6 3-1 3-2 3 14 3-21 3 3 2-6 3-7 3 39 3-32 3-11 3 26 2-34 3 29 3-24 3 20 3 4 3-21 2 26 3 2 3-3 3-23 3 35 3-19 2 20 3-15 3 14 3-8 3-21 3 26 2-22 3 0 3-5 3 19 3-2 3 0 2-27 3 47 3-16 3-3 3-5 3-4 2 10 3 11 3-32 3 20 3-7 3 8 2-20 3 13 3 10 3 10 3-14 3 17 2-22 3 6 3-18 3 19 3-12 3 20 2-32 3-8 3 4 3 35 3-16 3 5 2-3 3 14 3-29 3 8 3 6 3 13 2-16 3 11 3 6 3-8 3-7 3 9 2-7 3-13 3 10 3-9 3 28 3-20 2-17 3 28 3 16 3-32 3 20 3-28 2 14 3 5 3-1 3 9 3-2 3 6 2-3 3-1 3-15 3 3 3-7 3 19 2 1 3-5 3 0 3-24 3 28 3-14 2 15 3-9 3 9 3-10 3 7 3-11 2 21 3-25 3 0 3-3 3 18 3-8 2 0 3 12 3-8 3 10 3-15 3 18 2-17 3 1 3 24 3-32 3 13 3-20 2 16 3-11 3 25 3-11 3-9 3 4 2-6 3 18 3-13 3 8 3-2 3 1 2 18 3-30 3 9 3-20 3 21 3-6 2 19 3-10 3-15 3 0 3 21 3-18 2-1 3 6 3 6 3-8 3 3 3-5 2-12 3-2 3 0 3 9 3 11 3 2 2-7 3 26 3-30 3 14 3-17 3 3 2 10 3-13 3-8 3-4 3 2 3 28 2-10 3-7 3 0 3-9 3 10 3 2 2 10 3 29 3-33 3-11 3 13 3-2 2-16 3 7 3 3 3-8 3 7 3 15 2-1 3-20 3 5 3 2 3-4 3 6 2-21 3 17 3-11 3 16 3-12 3-16 2 25 3-17 3 21 3-27 3 27 3-21 2 41 3-26 3 13 3-10 3-6 3-22 2 32 3-9 3-7 3 5 3-3 3 4 2-20 3 17 3-15 3-6 3 13 3-19 2 12 3-7 3 5 3 14 3-9 3-4 2 4 3-15 3 18 3-4 3 0 3-17 2 5 3 12 3-13 3 2 3-16 3-2 2-1 3-10 3 18 3-5 3-10 3 20 2-38 3 35 3-13 3-12 3 6 3 12 2-27 3 24 3-40 3-25 3 18 3 30 2-12 3-25 3-21 3 16 3-5 3-7 2-35 3 17 3 6 3-2 3-31 3-4 2 5 3 7 3-2 3-36 3-2 3 4 2-10 3-22 3-22 3 6 3-9 3 18 2-31 3-19 3 22 3-4 3 3 3-26 2-14 3 0 3-28 3 27 3-21 3 14 2 1 3-21 3 39 3-20 3 24 3-6 2 22 3-17 3 40 3-17 3 25 3 14 2-24 3 32 3-18 3 18 3 17 3 7 2-1 3-4 3 25 3-6 3 37 3-21 2 13 3 11 3-24 3 27 3 25 3 11 2-6 3 4 3 1 3-1 3 29 3 2 2-23 3 14 3 16 3-5 3 4 3 10 2-2 3-13 3 21 3 3 3-2 3-2 2 2 3-10 3 5 3 5 3 35 3-15 2-9 3 16 3 1 3-10 3 14 3-14 2-13 3 18 3 12 3 15 3-41 3 0 2 6 3 12 3 17 3 15 3-6 3-35 2 8 3 24 3-12 3 8 3-11 3 22 2-23 3 7 3-6 3 24 3-20 3 14 2 9" stroke="#ff0000" stroke-width="42.0" />
<path d="M1278 10284l3-199 3 139 3 91 2-140 3 67 3 75 3-138 3 103 3 57 2-75 3 61 3-92 3-14 3 46 3-99 2 132 3-55 3-69 3 126 3-24 3-52 2-15 3 52 3-102 3 22 3 127 3-48 2 47 3-53 3 78 3-142 3 118 3-12 2 12 3 24 3-102 3 21 3 104 3-38 2-14 3-126 3 175 3-74 3 22 3-138 2 107 3-138 3 162 3-40 3 12 3-63 2 67 3-23 3-81 3 103 3-25 3-65 2 129 3-123 3 32 3-59 3 10 3 112 2 102 3-155 3 19 3-1 3 70 3 72 2-104 3-27 3 62 3-15 3-48 3 18 2-49 3 52 3-77 3 148 3 1 3-185 2 2 3 62 3 39 3 64 3-75 3 75 2-138 3 69 3 7 3-47 3 7 3 84 2-16 3 35 3-156 3 190 3 16 3 17 2-114 3-31 3 66 3-21 3 43 3-172 2 105 3 31 3-65 3 0 3 150 3-65 2-79 3 142 3-109 3-27 3 5 3 11 2 62 3-31 3 16 3-38 3 58 3-71 2 59 3-74 3 112 3-18 3-48 3 24 2-40 3 10 3 33 3 43 3-140 3 70 2 56 3-97 3-6 3 119 3-74 3 120 2-52 3-37 3-10 3 0 3-6 3-10 2-47 3 45 3 43 3-70 3-4 3 21 2 122 3-13 3-39 3-58 3 78 3-139 2 126 3-29 3 109 3-82 3-54 3 35 2-49 3 59 3-44 3 60 3 12 3-105 2 129 3-208 3 72 3 104 3 1 3 57 2-107 3 7 3 46 3-70 3 56 3-56 2 9 3 64 3-15 3-71 3 112 3-139 2 91 3 18 3-60 3-39 3 12 3 59 2 78 3-99 3-81 3 66 3-58 3 148 2-37 3-3 3-126 3 22 3 19 3 48 2 0 3-16 3 75 3-101 3 109 3-27 2-74 3 26 3 112 3-73 3-79 3 53 2-11 3 50 3-66 3 72 3-55 3-14 2 80 3-34 3-101 3 92 3-9 3 17 2 40 3-127 3 100 3-48 3 57 3-82 2 53 3 62 3-73 3 38 3-160 3 68 2 4 3 36 3 2 3 44 3-86 3 145 2 4 3-126 3 66 3 54 3-104 3 28 2 40 3 5 3-44 3-17 3 31 3-30 2 57 3-62 3-8 3-22 3 122 3-104 2-39 3 86 3-53 3 55 3-34 3 8 2-2 3 14 3-23 3-34 3 54 3 10 2-100 3 58 3 33 3 22 3 45 3-36 2-10 3-30 3 13 3-20 3 32 3-125 2 90 3 85 3-107 3-38 3 38 3 22 2 54 3-141 3 80 3 72 3-40 3-58 2 100 3-56 3-10 3 9 3-27 3 69 2 9 3-43 3 25 3-33 3-17 3 22 2-22 3 13 3-3 3 76 3-147 3 58 2 55 3-68 3 24 3 10 3-6 3 12 2-43 3 14 3-28 3 32 3-20 3-38 2 70 3 10 3 6 3-5 3 32 3-21 2-7 3 45 3-46 3-44 3 76 3-32 2-81 3 56 3-30 3 67 3-30 3-81 2 39 3 111 3-59 3 6 3-22 3 18 2 50 3-37 3-36 3 20 3 70 3-47 2-34 3 81 3-128 3-56 3 96 3 22 2 6 3-86 3 68 3-20 3 72 3-4 2-42 3-52 3 66 3-19 3-4 3 9 2 41 3-95 3-21 3 74 3 15 3-23 2-88 3 71 3-19 3 27 3 6 3-60 2 25 3-19 3 29 3 60 3-102 3 72 2-7 3-59 3 86 3-164 3 208 3-28 2-75 3-38 3 10 3-19 3 142 3-146 2 76 3-92 3 74 3 22 3-45 3 76 2-59 3 33 3-40 3-45 3 41 3 29 2 19 3-68 3-22 3 33 3-21 3 25 2-16 3 35 3 14 3-82 3 59 3-39 2 72 3-85 3-9 3-20 3 46 3 14 2-44 3 41 3-124 3 127 3-9 3-104 2 170 3-46 3 5 3 24 3-85 3-33 2 152 3-125 3-64 3-5 3 201 3-100 2 9 3-7 3 11 3 73 3-121 3 72 2-44 3-35 3-17 3 34 3-27 3 78 2 37 3-63 3-54 3-41 3 15 3 93 2-11 3 28 3-115 3 44 3 62 3-47 2-70 3 7 3-35 3 9 3 133 3-127 2 125 3-19 3-35 3-61 3 143 3-64 2 9 3-55 3-77 3 98 3 7 3-107 2 66 3 10 3-77 3 68 3-9 3 19 2-27 3-17 3 6 3-17 3 96 3-55 2-57 3 25 3 56 3 11 3-103 3 76 2-9 3-5 3-73 3 103 3-85 3-35 2 166 3-93 3 2 3 88 3-204 3 47 2-63 3 75 3 104 3-61 3 11 3-73 2-8 3-4 3 143 3-98 3 29 3-130 2 119 3-105 3 64 3 40 3-11 3 13 2-75 3-7 3 65 3 39 3-68 3 6 2 1 3-23 3 23 3-39 3 16 3 43 2-93 3 50 3 2 3 4 3-33 3 35 2 23 3 19 3-145 3 110 3-39 3 88 2-122 3 30 3 33 3-117 3 194 3-48 2-66 3-54 3 83 3 19 3 0 3-1 2 29 3-13 3-209 3 250 3-33 3-93 2 32 3 43 3-121 3 174 3-126 3 22 2-56 3 65 3 79 3-21 3-85 3-111 2 98 3-30 3 38 3-71 3 150 3-56 2-47 3-1 3 23 3 40 3-118 3 34 2 29 3-17 3 62 3-53 3 70 3-109 2-32 3 53 3-131 3 105 3 84 3 41 2-171 3 69 3 35 3-144 3 167 3-15 2 25 3-8 3-108 3-40 3 96 3 7 2 194 3-307 3 8 3 74 3-40 3-61 2 36 3 124 3-76 3 51 3-46 3 155 2-198 3 75 3-82 3-26 3-14 3-15 2 40 3-5 3-39 3 19 3 85 3-112 2 157 3-24 3-54 3-25 3 110 3-1 2 45 3-36 3-99 3-97 3 42 3-103 2 108 3 0 3 63 3-94 3 116 3-24 2-80 3 23 3-29 3 11 3-31 3-39 2 23 3 82 3-117 3 0 3 55 3 158 2-108 3-53 3 68 3-40 3-238 3 209 2 41 3 24 3-24 3-2 3-200 3 89 2 43 3 129 3-201 3 124 3 12 3 45 2-76 3 53 3-95 3-113 3-34 3 159 2-156 3 242 3-68 3-52 3-62 3 21 2 75 3-51 3-124 3 217 3-144 3-36 2 46 3-17 3 130 3-115 3-49 3 29 2 17 3-116 3-54 3 85 3 51 3-151 2 7 3 89 3 52 3 28 3-133 3 155 2-220 3 115 3 13 3 192 3-103 3-189 2 169 3-88 3 27 3 94 3-122 3-73 2 81 3 39 3-31 3-75 3 42 3 11 2 13 3 78 3 36 3-133 3-82 3 151 2-110 3 195 3-94 3 28 3-274 3 195 2 77 3-195 3 121 3 125 3-52 3-160 2 183 3-13 3-1 3-37 3-4 3-53 2-34 3-105 3 211 3-15 3-37 3 50 2 13 3-134 3 75 3 54 3 101 3-179 2 50 3-79 3-2 3 187 3-360 3 330 2-168 3 23 3 47 3 9 3 54 3 29 2 7 3-262 3 153 3 33 3 5 3-185 2 289 3-56 3-102 3 299 3-400 3 77 2 7 3 76 3-126 3 1 3 178 3-136 2 116 3 43 3-167 3-67 3 44 3 99 2 62 3-83 3-155 3 149 3 148 3-15 2-230 3 95 3 13 3-200 3 201 3-220 2 13 3 73 3-65 3 163 3 26 3-101 2 30 3 111 3-45 3 184 3-72 3-324 2 156 3-56 3-51 3 253 3-108 3-122 2 286 3-1 3-180 3 90 3-117 3 57 2-158 3 126 3 63 3-103 3 235 3-254 2 138 3-3 3-185 3 287 3-100 3 90 2-84 3 19 3 146 3-175 3 35 3-87 2 85 3-40 3 15 3 132 3-176 3 57 2-40 3 280 3-241 3-30 3 50 3-160 2 299 3-241 3 10 3 146 3-172 3 252 2-112 3 114 3-307 3 154 3 69 3-118 2 233 3-139 3-42 3 48 3 63 3-84 2 5 3-30 3 77 3-44 3-10 3 117 2-136 3-69 3 75 3-30 3-26 3 139 2-59 3 9 3 119 3-67 3-37 3-56 2 124 3-124 3 161 3-26 3-118 3 78 2 10 3-62 3 37 3 78 3-262 3 173 2 17 3-4 3-95 3 34 3 14 3 173 2-218 3 132 3 27 3-95 3 171 3-184 2-50 3 31 3 60 3 60 3-172 3 11 2 179 3-41 3-107 3-51 3-44 3 68 2 154 3-119 3 159 3-94 3-119 3 198 2-74 3-8 3 69 3-114 3 320 3-321 2 44 3 12 3 167 3-131 3-115 3 176 2-108 3 11 3-53 3 177 3-70 3-90 2 23 3 115 3-207 3 215 3-260 3 212 2-73 3 76 3-52 3 192 3-204 3-25 2 56 3-91 3-57 3 99 3 30 3-84 2 138 3-78 3 145 3-47 3-269 3 227 2 2 3-147 3 204 3-194 3 97 3 0 2 181 3-229 3 147 3-65 3 4 3-126 2 420 3-442 3 116 3 158 3-136 3 56 2-92 3 129 3-5 3 3 3-107 3 4 2 10 3-203 3 204 3 191 3-259 3 200 2-87 3-8 3-124 3 258 3-186 3 87 2 51 3 49 3-78 3-12 3-29 3 143 2-250 3 105 3-5 3 68 3-10 3 30 2-119 3 25 3 130 3 102 3-192 3-44 2 134 3-64 3-159 3 278 3-133 3 92 2-142 3-85 3 170 3 10 3 33 3-10 2 135 3-65 3-55 3-83 3-75 3 173 2-60 3 25 3-72 3 71 3 12 3-15 2-19 3-43 3 120 3-11 3-165 3 40 2 3 3 12 3-3 3-34 3-70 3 284 2-182 3 49 3 138 3-64 3 73 3-195 2 82 3 92 3-110 3-57 3 109 3 83 2-272 3 236 3-30 3-156 3 53 3 92 2-231 3 169 3 36 3-52 3 7 3-176 2 60 3 106 3 271 3-226 3 35 3-31 2 57 3-168 3 314 3-261 3-90 3 110 2 54 3-1 3-141 3 161 3-69 3 183 2-170 3 172 3-285 3 155 3 145 3-57 2-30 3-57 3 42 3 35 3-216 3 195 2 2 3-135 3 132 3-144 3 30 3 109 2-283 3 157 3-56 3 65 3-55 3 58 2 51 3 46 3 1 3 77 3-20 3-5 2-127 3 40 3 60 3-201 3 93 3 32 2-18 3 38 3-4 3 147 3-180 3-105 2 25 3 24 3 101 3 71 3-37 3-115 2 123 3 110 3-182 3 13 3 88 3-26 2-134 3-134 3 103 3 231 3-224 3 126 2-13 3-46 3-52 3 68 3-7 3 153 2-90 3 200 3-111 3-65 3-151 3 118 2-45 3 65 3-62 3 7 3 192 3-148 2 23 3-47 3 52 3 126 3-225 3 94 2-31 3 86 3-157 3 217 3-63 3-21 2-92 3 85 3 121 3-75 3-107 3-6 2-24 3 185 3-147 3 21 3 61 3-147 2 123 3 77 3 40 3-60 3-85 3 87 2-39 3 7 3 48 3-146 3 20 3 216 2-197 3 72 3-107 3 119 3 22 3-122 2 185 3-99 3 147 3-188 3 87 3 75 2-15 3 13 3-31 3-47 3 47 3-22 2-60 3 73 3 29 3-14 3-203 3 159 2 2 3 18 3 30 3 20 3 2 3-39 2 57 3-116 3 66 3 80 3-68 3-72 2 54 3-9 3-50 3 61 3 32 3-86 2 90 3-158 3 94 3 55 3 4 3 29 2-58 3-15 3-82 3 81 3-17 3 110 2-15 3-23 3 49 3 27 3-35 3-64 2-16 3 90 3 74 3-84 3-60 3 62 2-72 3-43 3 108 3-45 3 109 3-228 2 127 3 39 3-26 3 19 3 75 3-142 2 12 3 2 3 124 3-77 3 31 3-85 2 20 3 54 3 175 3-195 3-17 3 106 2-20 3-166 3 166 3-59 3 61 3-20 2 86 3-72 3-45 3 77 3-107 3-16 2 109 3-78 3 105 3-15 3-12 3 56 2-9 3-19 3 12 3-3 3-9 3-85 2-88 3 57 3 50 3 84 3-124 3 76 2 8 3 26 3 25 3-40 3 9 3-105 2 75 3 1 3 124 3-13 3-7 3-66 2-16 3-37 3 28 3-76 3 56 3-9 2 37 3 224 3-120 3-143 3 138 3-123 2-27 3 69 3-34 3-33 3 38 3 21 2 132 3-180 3 33 3 102 3-118 3 17 2-35 3 47 3 27 3-62 3 134 3-167 2 55 3-4 3 18 3-77 3 37 3 39 2 62 3-19 3-36 3-4 3 112 3-106 2 19 3-3 3 11 3 7 3-30 3 69 2-13 3-30 3 95 3-180 3 79 3 36 2-90 3 77 3-44 3-53 3 107 3-96 2 20 3 21 3-21 3-3 3 19 3-11 2 95 3-71 3 92 3-105 3 81 3-101 2-48 3 80 3-103 3 175 3-35 3-13 2-39 3 24 3-22 3 115 3-71 3-58 2-12 3 96 3-51 3 60 3-51 3 39 2-177 3 155 3-70 3 91 3 4 3-21 2-30 3 2 3 3 3 1 3-82 3 102 2-19 3-35 3 94 3-87 3 52 3 28 2 51 3-109 3 37 3-128 3 85 3-24 2 44 3-107 3 130 3-12 3 37 3-61 2-6 3 6 3 31 3-111 3 141 3-83 2-78 3 117 3 86 3-138 3-23 3-87 2 49 3 111 3-56 3 66 3-62 3 67 2-73 3 108 3-99 3 147 3-141 3 2 2 93 3 20 3-144 3-31 3 151 3-90 2-39 3 129 3-146 3 81 3 27 3 18 2 9 3-103 3 71 3-2 3 59 3-52 2-85 3-9 3 39 3 146 3-127 3-45 2 61 3 42 3-32 3-32 3 99 3-31 2 5 3-111 3 12 3 3 3 30 3 9 2-79 3 19 3 62 3 11 3 70 3-87 2 47 3-147 3 117 3-96 3 31 3 50 2-1 3-39 3 67 3-120 3 60 3 34 2-34 3 35 3 85 3-122 3 20 3-40 2-16 3 51 3 55 3-86 3 92 3-38 2-72 3-11 3 7 3 77 3-30 3 68 2-64 3 20 3 27 3 54 3-162 3 120 2-51 3 37 3-56 3 81 3-102 3 58 2 2 3 26 3-104 3-22 3 159 3-25 2-70 3 12 3-57 3 137 3-151 3 93 2-24 3 50 3 5 3-105 3 5 3 58 2-89 3 123 3-21 3-119 3 175 3-122 2 81 3-90 3 117 3-82 3-27 3 90 2-71 3-28 3 3 3 54 3 7 3-40 2-3 3 21 3-32 3 92 3 0 3-101 2 13 3 153 3-95 3-74 3 55 3-37 2 11 3 69 3-86 3 2 3 17 3 28 2-32 3 108 3-130 3 83 3-99 3-15 2 54 3-3 3-86 3 41 3 96 3 25 2 22 3-21 3-103 3 47 3-6 3-35 2 66 3-42 3 53 3-9 3 9 3-27 2-63 3-10 3 57 3-17 3 54 3-119 2 109 3-40 3-82 3 116 3-29 3-41 2-13 3 89 3-95 3 120 3-96 3 34 2-14 3-4 3 11 3-70 3 121 3-34 2-13 3-26 3-5 3 66 3-72 3-19 2-25 3-27 3 112 3-27 3-89 3 71 2 8 3 65 3-60 3 28 3 92 3-218 2 164 3-62 3-15 3-57 3 27 3 59 2-101 3-9 3 122 3-72 3-6 3-57 2 60 3-1 3-2 3-3 3 17 3 33 2-102 3 59 3 11 3-39 3 8 3-58 2-7 3 49 3 28 3 33 3 65 3-70 2 36 3-94 3 20 3-15 3-19 3 119 2-103 3 19 3 70 3-80 3 39 3 25 2 18 3-41 3-63 3 23 3 24 3-37 2-23 3 102 3 46 3-89 3-104 3 231 2-145 3 14 3 18 3-46 3 95 3-29 2 14 3-34 3-25 3 65 3-114 3 7 2 62 3-8 3-73 3 11 3 3 3 114 2-107 3-23 3-14 3 87 3-62 3 36 2 105 3-74 3-122 3 146 3-123 3 50 2 66 3-86 3-37 3 116 3-196 3 111 2 56 3-15 3-111 3 111 3 50 3-166 2 114 3 9 3 64 3-25 3-85 3-6 2 62 3-125 3 160 3 11 3-17 3-69 2-20 3-28 3 48 3 65 3-64 3-27 2 79 3-56 3 25 3-53 3 91 3-30 2-92 3 125 3-76 3 49 3-23 3-124 2 68 3 160 3-130 3-25 3-1 3-18 2 44 3 88 3-126 3-42 3 78 3-80 2 62 3 113 3-53 3-91 3 180 3-161 2 95 3-94 3-40 3 18 3 14 3 64 2-44 3 46 3-83 3 145 3-16 3-119 2 4 3-9 3-85 3-60 3 143 3-20 2 112 3-84 3 84 3-48 3-91 3 174 2-60 3-46 3 114 3-191 3 127 3 24 2-47 3 41 3-135 3 55 3 18 3-33 2 120 3-163 3 116 3-67 3 34 3-25 2-41 3 96 3-153 3 88 3 54 3-99 2 64 3-30 3-97 3 111 3 45 3-64 2 94 3-168 3 82 3 50 3-67 3 21 2-39 3-21 3 96 3 136 3-192 3 33 2 34 3-79 3 107 3-76 3 100 3-92 2-72 3 110 3-144 3 158 3-131 3 2 2 10 3 113 3-84 3 112 3-40 3-35 2 12 3-49 3 21 3-55 3 55 3-54 2 93 3-29 3-13 3 57 3-110 3 111 2-29 3-162 3 128 3 21 3-63 3 102 2-162 3 56 3-11 3 149 3-64 3-112 2 186 3 13 3-31 3-188 3 62 3 34 2 19 3 24 3-39 3 52 3-48 3-84 2 63 3-60 3 37 3 86 3 25 3-29 2-132 3 26 3 92 3 26 3-168 3 7 2 76 3 30 3 12 3-71 3 136 3-205 2 122 3 19 3 20 3-47 3 66 3-63 2-112 3 83 3 32 3-100 3 212 3-242 2 119 3 69 3-124 3 129 3-182 3-11 2 112 3 29 3 42 3-6 3 11 3 9 2-46 3-8 3-82 3-59 3 185 3 43 2-150 3 14 3 35 3-105 3 49 3 14 2-98 3 189 3-112 3 46 3-116 3-36 2 122 3 5 3-14 3 13 3 9 3-50 2 50 3 77 3 42 3 9 3-188 3 68 2-25 3-2 3 140 3-138 3-12 3-25 2 43 3-30 3 59 3-28 3 141 3-71 2-147 3 87 3 36 3 31 3-146 3 0 2 57 3 90 3-23 3-4 3-192 3-46 2 154 3 39 3-7 3 27 3-105 3 250 2-258 3 160 3 32 3-202 3 78 3 36 2-43 3-68 3 111 3-34 3-21 3 65 2 9 3-50 3-22 3 50 3-127 3 42 2 105 3-9 3 14 3-116 3 83 3-86 2 64 3 37 3-148 3 105 3-36 3 53 2 124 3-154 3 59 3 50 3-148 3 37 2 55 3-36 3 27 3 6 3-51 3-81 2-8 3 61 3 90 3 45 3-110 3-55 2-6 3 74 3-59 3 39 3 29 3 105 2-19 3-218 3 126 3-99 3 177 3-13 2-191 3 184 3-34 3 33 3 104 3-89 2-30 3-99 3 33 3 42 3 76 3-162 2-65 3 244 3-3 3-181 3 236 3-125 2 23 3-129 3 167 3-142 3-58 3 81 2 117 3-4 3-12 3-118 3 94 3-95 2 98 3-98 3-29 3 28 3 23 3-36 2 62 3-34 3-51 3 129 3-72 3-12 2-47 3 174 3-79 3-121 3 142 3 27 2-125 3 31 3 5 3 117 3-68 3 72 2-25 3-93 3-18 3 59 3-110 3 133 2-34 3 95 3-80 3-57 3 183 3-58 2 2 3 72 3-108 3-101 3 188 3-170 2 12 3-49 3 93 3 26 3 48 3-121 2 13 3-77 3 0 3 108 3-116 3 103 2 28 3-49 3 109 3-85 3-6 3-3 2-88 3 137 3-64 3-3 3 14 3 13 2 40 3-143 3 146 3-157 3 111 3 8 2-18 3 113 3-207 3 143 3-130 3-87 2 15 3 139 3-29 3 157 3-39 3-172 2 123 3-74 3 64 3 134 3-147 3-53 2 22 3 30 3-45 3 81 3-26 3 137 2-275 3 72 3 14 3 44 3-15 3-10 2 48 3 69 3-104 3 8 3-144 3 14 2-1 3 119 3-119 3 136 3-8 3 69 2-173 3 107 3 14 3-188 3 124 3 56 2-85 3 109 3-39 3 170 3-266 3 98 2-6 3-109 3 92 3 114 3-189 3 188 2-147 3-35 3 12 3 12 3 39 3-28 2 71 3-16 3 32 3-12 3 30 3-71 2-91 3 75 3 75 3 88 3-258 3 164 2 65 3-41 3-98 3 58 3-68 3 21 2 77 3-8 3-27 3-31 3 6 3-39 2-15 3 40 3 91 3 25 3-61 3-33 2 61 3-36 3 16 3-104 3 126 3 27 2-140 3 15 3 160 3-39 3-59 3 39 2-92 3 70 3-93 3 175 3-167 3 12 2 1 3-26 3 93 3-85 3 231 3-184 2-1 3 112 3 45 3-98 3-110 3 64 2 76 3-80 3 10 3 64 3-23 3 90 2-78 3-57 3 72 3-75 3 13 3 62 2 30 3-87 3 51 3-65 3 31 3 27 2-65 3 101 3-110 3-30 3 98 3 3 2 4 3-93 3 159 3-102 3 59 3-136 2 110 3-15 3 46 3-28 3-76 3 21 2 64 3 10 3 125 3-184 3 10 3-61 2 13 3 52 3-22 3 103 3-27 3-54 2-48 3 74 3-45 3 85 3-24 3-86 2 82 3 92 3-204 3 93 3 16 3 33 2-58 3-9 3 63 3-5 3 36 3-60 2 89 3-101 3 6 3 11 3-9 3-19 2-42 3 175 3-138 3 45 3 33 3 41 2-11 3-67 3-11 3 39 3 65 3-159 2 48 3 3 3 5 3-73 3 55 3 97 2 22 3 61 3-130 3-98 3 134 3-49 2 33 3-119 3 117 3-7 3-93 3 87 2 92 3-109 3 14 3-7 3 19 3 50 2-30 3-4 3-103 3 149 3-28 3-61 2 1 3 32 3 47 3-133 3 96 3-11 2 91 3-76 3 4 3-61 3-48 3 93 2 36 3 66 3-21 3-30 3-51 3 23 2 24 3-34 3 63 3-21 3-82 3 27 2 114 3-117 3-6 3-16 3 51 3 40 2-89 3 85 3-119 3 72 3 26 3-18 2 108 3-106 3 38 3-96 3 129 3-44 2-4 3-13 3 37 3-50 3 10 3 56 2-81 3 23 3-13 3 152 3-80 3-18 2 82 3-139 3 9 3 70 3 13 3-36 2 10 3 45 3-34 3-28 3-19 3 25 2 34 3-96 3-48 3 83 3 16 3-25 2 74 3-49 3 22 3-44 3 44 3-25 2 46 3-62 3 77 3-8 3-57 3 98 2-64 3-29 3 45 3-31 3 48 3-89 2 105 3-23 3-37 3 44 3 15 3 14 2-90 3-70 3 69 3 8 3-37 3 23 2 21 3-75 3 178 3 38 3-145 3 74 2-44 3-56 3 47 3-64 3 210 3-186 2-11 3 44 3 1 3 38 3 34 3-50 2-18 3-51 3 105 3-126 3 16 3 38 2 102 3-117 3 76 3-37 3 27 3 106 2-192 3 6 3 108 3-50 3 45 3 37 2-144 3 72 3-19 3-25 3-57 3 148 2-18 3-18 3 35 3-37 3 24 3 28 2-47 3 20 3-52 3 22 3-58 3-13 2 69 3 75 3-165 3 37 3-37 3 57 2 115 3-22 3-3 3-46 3 28 3 1 2-22 3 73 3-136 3 55 3 20 3-90 2 72 3-33 3 102 3-86 3-30 3 47 2 52 3-37 3 76 3-107 3-73 3 112 2-27 3 36 3 38 3-42 3-18 3-23 2-12 3 32 3 56 3 52 3-64 3 39 2-25 3-9 3-135 3 92 3 0 3-9 2-8 3-16 3 59 3 10 3-27 3 47 2 75 3-92 3-19 3-41 3 4 3 99 2-40 3-91 3 91 3-87 3 17 3 109 2-23 3 0 3-127 3 131 3 31 3-97 2 71 3-78 3 29 3 12 3-58 3 8 2 97 3-101 3 62 3 7 3 25 3-21 2-76 3 88 3-84 3 108 3-126 3 71 2-23 3-25 3 16 3-25 3 14 3-14 2 84 3-77 3 19 3 145 3-31 3-74 2-1 3 88 3-99 3 15 3 67 3-134 2 136 3-106 3 4 3 49 3 35 3 9 2-160 3 113 3 33 3-7 3 0 3-21 2 72 3-71 3-11 3 94 3-63 3 49 2-41 3 4 3 16 3-184 3 174 3-40 2 81 3-168 3 85 3-21 3 130 3 1 2-198 3 126 3 44 3-8 3-89 3 90 2-109 3 130 3-2 3-130 3 13 3 134 2-28 3-52 3 42 3-129 3 109 3-59 2 43 3 36 3-61 3 54 3-81 3 44 2 33 3-25 3-30 3 34 3-42 3 53 2-31 3 80 3-45 3 20 3-66 3 88 2-24 3 38 3-81 3-50 3 65 3-44 2 39 3 44 3-48 3 28 3-24 3-9 2 44 3-50 3 88 3-82 3 5 3-96 2 25 3 82 3-16 3 16 3 45 3-143 2 114 3-113 3 51 3 25 3 59 3-93 2 100 3-52 3 34 3 13 3-45 3-128 2 177 3-55 3 62 3-77 3-5 3 39 2 22 3-11 3-17 3 15 3-63 3-24 2-4 3-17 3 112 3-16 3 24 3-17 2 79 3-132 3 11 3-44 3 175 3-47 2-90 3-33 3-21 3 71 3 109 3-23 2-64 3-40 3 107 3-57 3 54 3-38 2-3 3 4 3-49 3 68 3-37 3-56 2 136 3-51 3-68 3 100 3-72 3 21 2 15 3 5 3-24 3-64 3 51 3 17 2 37 3-77 3 22 3 89 3-122 3 54 2-50 3-4 3 11 3 75 3-14 3-23 2 23 3 18 3-48 3 30 3-5 3 35 2-31 3-17 3-30 3 167 3-160 3 9 2 1 3-48 3 76 3-17 3-40 3 67 2 21 3-73 3 34 3-81 3 28 3 91 2-79 3 33 3-5 3-7 3 15 3-1 2 12 3-5 3 2 3-52 3-4 3 99 2 39 3-144 3 55 3-4 3-29 3 55 2 5 3 46 3-116 3 72 3-37 3 13 2 12 3-6 3 56 3-60 3 39 3-132 2 97 3 51 3-85 3 7 3 62 3-3 2 38 3-57 3-15 3-53 3 135 3-125 2-14 3 51 3 58 3-75 3 29 3-88 2 108 3 8 3 35 3-37 3-55 3 95 2-160 3 115 3 10 3 32 3-35 3-9 2-67 3 36 3 54 3-70 3 31 3-22 2 24 3 34 3-15 3 59 3-105 3 13 2 17 3 28 3-33 3-32 3 9 3 5 2-5 3 30 3-35 3-31 3 14 3 73 2-33 3 69 3-73 3 52 3-26 3-28 2-8 3-13 3 76 3-21 3-9 3 18 2-64 3 90 3 6 3-59 3 35 3-101 2 47 3-16 3 6 3 89 3-47 3 29 2-50 3-3 3 14 3 8 3-104 3 53 2-46 3 59 3 110 3-87 3-77 3 108 2-60 3-22 3 79 3-49 3-24 3 89 2 33 3-79 3 41 3-81 3 35 3-41 2 43 3 26 3-68 3 9 3 6 3-25 2 119 3 8 3-90 3 29 3 47 3-52 2 40 3-167 3 48 3 69 3 23 3 9 2 6 3-42 3 31 3-15 3 19 3-70 2 41 3-7 3 18 3-60 3 107 3-48 2-80 3 64 3-13 3-9 3 31 3-38 2 102 3-6 3-37 3-49 3 67 3-70 2 46 3-6 3 19 3-47 3 112 3-54 2-32 3-7 3-47 3 34 3 29 3-82 2 50 3-13 3 14 3-26 3 29 3-12 2-78 3 77 3 87 3-129 3 23 3 34 2-18 3 18 3-75 3 93 3-98 3 76 2-52 3 18 3 25 3-51 3 124 3-133 2 137 3 49 3-92 3-25 3-6 3 98 2-68 3-36 3 17 3 90 3-63 3-25 2 43 3-54 3-2 3 74 3-29 3-73 2 16 3 46 3 18 3-20 3-145 3 67 2 42 3 19 3-3 3 42 3 6 3-46 2 7 3 77 3 1 3-25 3-86 3-42 2 144 3-134 3 26 3 17 3-29 3-5 2 52 3 82 3-47 3-9 3-67 3-49 2 29 3 85 3 13 3 45 3-104 3 63 2-69 3 61 3-87 3 26 3 18 3 28 2-115 3 48 3 72 3-63 3 34 3 61 2-94 3 1 3 31 3-106 3 168 3-112 2 35 3-11 3 33 3-34 3 9 3 33 2 11 3-21 3-36 3-10 3 40 3 56 2-152 3 92 3-7 3-160 3 157 3 45 2-29 3-20 3-23 3 40 3-2 3-79 2 46 3 21 3 27 3-3 3-40 3 33 2-11 3 24 3 30 3-168 3-27 3 104 2 85 3-3 3-34 3 25 3-96 3 34 2 7 3-9 3-13 3 114 3-37 3-102 2 121 3-64 3 55 3-84 3 27 3-49 2 73 3-104 3 0 3 29 3 32 3 99 2-1 3-40 3-38 3-14 3 47 3-5 2-3 3-11 3-34 3-12 3 26 3 103 2-97 3 26 3-15 3 54 3-4 3-50 2-37 3-87 3 141 3-61 3-54 3 134 2-105 3 155 3-110 3 2 3-1 3 66 2-44 3 57 3-74 3 14 3 29 3-15 2-42 3 15 3 51 3-47 3-19 3 46 2-106 3 129 3 14 3-73 3 66 3-2 2 3 3-50 3 54 3-63 3 73 3 13 2-93 3-28 3 101 3-92 3-13 3 80 2-57 3 12 3 119 3-142 3-6 3 101 2-27 3 47 3-127 3 70 3 42 3 11 2 57 3-37 3-205 3 119 3 69 3-85 2 68 3-1 3-112 3-48 3 128 3-39 2 71 3 10 3-52 3 58 3-56 3-19 2-25 3 84 3-86 3-16 3 47 3 61 2 1 3-63 3 55 3-48 3 64 3-1 2-24 3-31 3-43 3-12 3 76 3 36 2-49 3 46 3 9 3 28 3-99 3-26 2 92 3 2 3 8 3-20 3-7 3-40 2 50 3-107 3-15 3 16 3 15 3 41 2 15 3-122 3 113 3-62 3 62 3 30 2 48 3-130 3-22 3 95 3-81 3-35 2 92 3-14 3 6 3-93 3 12 3 34 2-38 3 148 3-121 3-41 3 113 3-124 2 19 3 49 3 23 3 84 3-64 3-25 2-47 3 75 3-58 3 84 3-46 3-69 2 83 3-115 3 31 3 95 3-9 3-6 2-41 3-13 3-11 3 45 3-35 3 57 2-111 3 104 3-25 3-72 3 89 3-72 2 48 3-9 3-41 3 118 3-58 3-129 2 133 3 40 3-53 3-11 3-3 3 40 2-28 3-35 3 41 3-51 3 160 3-99 2-57 3 122 3-112 3-54 3 134 3 59 2-122 3 17 3 36 3-132 3 49 3 10 2 33 3 60 3-24 3 13 3 50 3-114 2 43 3 3 3 59 3-42 3-58 3 19 2-7 3 17 3 26 3 10 3-56 3 3 2-24 3 60 3-63 3 77 3-45 3-13 2 20 3 32 3-66 3 53 3-15 3 52 2 55 3-163 3 48 3-4 3 16 3-52 2 65 3 13 3 101 3-147 3 51 3-15 2-34 3-26 3 31 3 89 3-29 3-52 2 30 3 9 3 19 3-66 3 46 3-42 2 3 3 83 3-67 3-25 3-8 3-12 2 89 3-52 3 14 3-13 3 26 3 27 2-11 3 23 3-14 3-48 3 57 3-105 2 64 3 14 3 20 3-39 3 57 3-42 2-24 3 82 3-25 3-43 3 32 3-66 2 47 3-65 3 76 3 8 3-4 3 29 2-124 3 146 3-19 3-42 3-38 3-2 2 34 3-24 3 7 3 65 3-63 3-1 2-7 3 41 3-37 3 19 3-44 3 22 2 29 3 20 3-33 3-29 3-14 3 61 2-78 3 86 3 17 3-41 3 33 3-109 2 71 3-5 3-16 3 33 3 24 3-96 2 48 3 8 3-62 3 42 3 15 3 4 2 7 3-12 3 8 3 52 3-56 3 89 2-99 3 8 3-29 3 15 3-20 3 85 2 54 3-76 3-100 3 82 3 31 3 57 2-112 3-2 3 64 3-5 3-66 3 75 2-23 3-43 3 88 3-6 3-56 3-22 2 48 3-35 3-18 3-17 3-14 3 78 2 30 3-85 3 39 3 31 3 26 3-104 2 13 3-8 3 2 3 85 3-52 3-26 2 89 3-6 3-53 3 95 3-132 3 37 2-9 3-17 3 18 3 18 3-10 3-35 2 78 3-15 3-28 3 29 3-49 3 17 2 104 3-95 3-19 3 31 3 12 3-17 2-35 3 137 3-54 3-25 3-42 3 72 2-35 3 43 3-48 3-12 3 17 3-6 2-37 3 25 3-72 3 109 3-61 3-30 2 31 3 35 3 17 3-64 3 48 3-5 2-28 3 62 3 23 3-44 3-50 3 37 2 47 3-76 3 51 3-34 3 45 3 5 2-24 3 21 3-23 3-28 3 41 3 0 2 7 3-28 3-6 3-31 3-18 3 34 2-47 3 148 3-49 3-49 3-18 3 17 2 46 3-16 3-93 3 75 3 18 3 4 2-20 3 85 3-29 3-81 3 61 3-7 2-17 3-29 3-47 3 25 3 99 3-8 2-114 3 32 3 50 3-35 3-38 3 48 2 44 3-27 3 2 3 12 3-22 3 61 2-66 3-59 3 70 3 14 3 19 3-55 2 28 3-26 3-16 3 33 3 19 3-9 2 28 3-50 3-34 3 78 3-29 3-33 2 63 3 14 3-37 3-74 3 101 3-48 2 49 3-132 3 148 3-33 3-74 3 109 2-59 3-35 3 94 3 5 3-101 3 2 2 61 3-12 3 61 3-45 3-33 3 89 2-104 3 71 3-12 3-70 3-18 3-15 2 77 3 4 3 77 3-108 3 13 3 14 2-8 3 8 3-9 3-12 3 17 3-24 2-31 3 73 3-39 3-15 3 68 3-51 2-15 3 46 3-52 3-8 3 43 3 35 2-43 3 2 3 68 3-60 3-7 3 33 2-3 3-97 3 48 3 93 3-50 3-23 2 79 3-27 3-51 3 40 3-25 3 8 2-30 3-72 3 38 3-15 3 23 3-10 2 22 3 49 3 9 3-37 3-52 3 126 2-77 3-7 3-23 3 44 3-63 3 37 2 47 3-70 3-30 3 99 3 16 3-94 2 103 3-68 3-28 3-13 3 105 3-28 2-80 3 42 3-3 3 64 3-49 3 78 2-50 3 8 3 16 3-77 3 59 3-43 2-40 3 64 3 14 3 5 3-42 3-19 2 64 3-53 3 41 3-75 3 80 3-16 2-19 3 8 3 3 3 5 3-13 3 26 2-23 3-75 3 4 3 118 3-90 3-27 2 147 3-11 3 19 3-130 3 97 3-43 2 38 3-55 3-7 3 19 3 66 3 1 2-66 3 29 3-3 3 43 3 1 3-72 2 25 3-30 3-12 3 25 3 10 3-56 2 39 3-19 3 0 3-21 3 69 3 4 2-8" stroke="#000000" stroke-width="42.0" />
</g></g>
<g font-family="Liberation Sans" font-size="100" fill="#000">
<text transform="matrix(0.653,0,0,0.545,230.5,1159.4)">20</text>
<text transform="matrix(0.665,0,0,0.545,513.9,1159.4)">40</text>
<text transform="matrix(0.658,0,0,0.545,797.4,1159.4)">60</text>
<text transform="matrix(0.642,0,0,0.545,1081.8,1159.4)">80</text>
<text transform="matrix(0.974,0,0,0.826,480.0,1243.9)">2</text>
<text transform="matrix(0.9449,0,0,0.826,564.2,1243.5)">Theta</text>
<text transform="matrix(0,-0.7966,0.894,0,94.1,840.87)">Intensity (a.u.)</text>
<text transform="matrix(0.663,0,0,0.553,879.2,287.2)">Au/Nb-CeO</text>
<text transform="matrix(0.424,0,0,0.35,1224.5,287.2)">2</text>
<text transform="matrix(0.663,0,0,0.553,987.3,511.1)">Au/CeO</text>
<text transform="matrix(0.424,0,0,0.35,1224.5,511.1)">2</text>
<text transform="matrix(0.663,0,0,0.553,979.8,700.5)">Nb-CeO</text>
<text transform="matrix(0.424,0,0,0.35,1224.5,700.5)">2</text>
<text transform="matrix(0.663,0,0,0.553,1081.5,825.9)">CeO</text>
<text transform="matrix(0.424,0,0,0.35,1219.1,825.9)">2</text>
<text transform="matrix(0.663,0,0,0.553,1086.0,987.7)">NbO</text>
<text transform="matrix(0.371,0,0,0.347,1224.8,987.7)">x</text>
</g>
<clipPath id="pc"><rect x="830" y="1190" width="90" height="56"/></clipPath>
<g clip-path="url(#pc)" font-family="Liberation Serif" font-size="100" fill="#000">
<text transform="matrix(0.63,0,0,0.473,838.9,1240.7)">(°)</text>
</g>
</svg>
</body></html>
